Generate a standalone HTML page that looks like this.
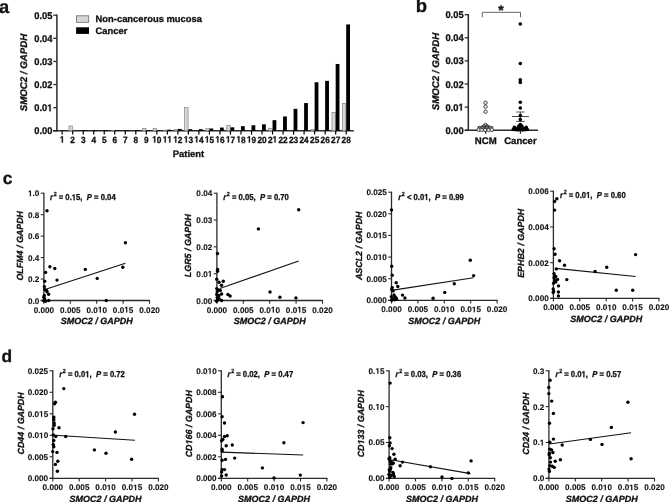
<!DOCTYPE html>
<html><head><meta charset="utf-8"><style>
html,body{margin:0;padding:0;background:#fff;}
body{width:669px;height:502px;overflow:hidden;}
svg{display:block;font-family:"Liberation Sans", sans-serif;text-rendering:geometricPrecision;will-change:transform;}
text{white-space:pre;font-kerning:none;}
</style></head><body>
<svg width="669" height="502" viewBox="0 0 669 502">
<rect width="669" height="502" fill="#fff"/>
<g transform="translate(-1.10 12.80)" fill="#111" stroke="#111" stroke-width="0.3"><text font-weight="bold" xml:space="preserve"><tspan x="0.000" y="0.000" font-size="18.3" font-style="normal">a</tspan></text></g>
<g transform="translate(415.80 12.20)" fill="#111" stroke="#111" stroke-width="0.3"><text font-weight="bold" xml:space="preserve"><tspan x="0.000" y="0.000" font-size="18.5" font-style="normal">b</tspan></text></g>
<g transform="translate(2.70 184.20)" fill="#111" stroke="#111" stroke-width="0.3"><text font-weight="bold" xml:space="preserve"><tspan x="0.000" y="0.000" font-size="17.4" font-style="normal">c</tspan></text></g>
<g transform="translate(1.50 361.90)" fill="#111" stroke="#111" stroke-width="0.3"><text font-weight="bold" xml:space="preserve"><tspan x="0.000" y="0.000" font-size="17.4" font-style="normal">d</tspan></text></g>
<line x1="56.90" y1="14.60" x2="56.90" y2="131.40" stroke="#2a2a2a" stroke-width="1.5"/>
<line x1="53.30" y1="130.80" x2="56.90" y2="130.80" stroke="#2a2a2a" stroke-width="1.3"/>
<g transform="translate(52.40 134.30) scale(0.9550 1)" fill="#111" stroke="#111" stroke-width="0.3"><text font-weight="bold" xml:space="preserve"><tspan x="-19.074" y="0.000" font-size="9.8" font-style="normal">0.00</tspan></text></g>
<line x1="53.30" y1="107.68" x2="56.90" y2="107.68" stroke="#2a2a2a" stroke-width="1.3"/>
<g transform="translate(52.40 111.18) scale(0.9550 1)" fill="#111" stroke="#111" stroke-width="0.3"><text font-weight="bold" xml:space="preserve"><tspan x="-19.074" y="0.000" font-size="9.8" font-style="normal">0.0</tspan></text><g stroke-linejoin="round"><polygon points="-3.163,0.000 -3.163,-5.599 -4.780,-4.589 -4.780,-5.646 -3.091,-6.742 -1.818,-6.742 -1.818,0.000"/></g></g>
<line x1="53.30" y1="84.56" x2="56.90" y2="84.56" stroke="#2a2a2a" stroke-width="1.3"/>
<g transform="translate(52.40 88.06) scale(0.9550 1)" fill="#111" stroke="#111" stroke-width="0.3"><text font-weight="bold" xml:space="preserve"><tspan x="-19.074" y="0.000" font-size="9.8" font-style="normal">0.02</tspan></text></g>
<line x1="53.30" y1="61.44" x2="56.90" y2="61.44" stroke="#2a2a2a" stroke-width="1.3"/>
<g transform="translate(52.40 64.94) scale(0.9550 1)" fill="#111" stroke="#111" stroke-width="0.3"><text font-weight="bold" xml:space="preserve"><tspan x="-19.074" y="0.000" font-size="9.8" font-style="normal">0.03</tspan></text></g>
<line x1="53.30" y1="38.32" x2="56.90" y2="38.32" stroke="#2a2a2a" stroke-width="1.3"/>
<g transform="translate(52.40 41.82) scale(0.9550 1)" fill="#111" stroke="#111" stroke-width="0.3"><text font-weight="bold" xml:space="preserve"><tspan x="-19.074" y="0.000" font-size="9.8" font-style="normal">0.04</tspan></text></g>
<line x1="53.30" y1="15.20" x2="56.90" y2="15.20" stroke="#2a2a2a" stroke-width="1.3"/>
<g transform="translate(52.40 18.70) scale(0.9550 1)" fill="#111" stroke="#111" stroke-width="0.3"><text font-weight="bold" xml:space="preserve"><tspan x="-19.074" y="0.000" font-size="9.8" font-style="normal">0.05</tspan></text></g>
<line x1="53.10" y1="130.80" x2="353.80" y2="130.80" stroke="#2a2a2a" stroke-width="1.5"/>
<g transform="translate(26.70 72.50) rotate(-90)" fill="#111" stroke="#111" stroke-width="0.3"><text font-weight="bold" xml:space="preserve"><tspan x="-38.805" y="0.000" font-size="9.7" font-style="italic">SMOC2 / GAPDH</tspan></text></g>
<line x1="62.15" y1="130.80" x2="62.15" y2="134.60" stroke="#000" stroke-width="1.2"/>
<g transform="translate(62.15 142.50) scale(0.9200 1)" fill="#111" stroke="#111" stroke-width="0.3"><g stroke-linejoin="round"><polygon points="-0.402,0.000 -0.402,-5.142 -1.887,-4.214 -1.887,-5.186 -0.336,-6.192 0.833,-6.192 0.833,0.000"/></g></g>
<line x1="72.67" y1="130.80" x2="72.67" y2="134.60" stroke="#000" stroke-width="1.2"/>
<g transform="translate(72.67 142.50) scale(0.9200 1)" fill="#111" stroke="#111" stroke-width="0.3"><text font-weight="bold" xml:space="preserve"><tspan x="-2.503" y="0.000" font-size="9.0" font-style="normal">2</tspan></text></g>
<rect x="68.97" y="125.94" width="3.40" height="4.86" fill="#d6d6d6" stroke="#747474" stroke-width="0.6"/>
<line x1="83.19" y1="130.80" x2="83.19" y2="134.60" stroke="#000" stroke-width="1.2"/>
<g transform="translate(83.19 142.50) scale(0.9200 1)" fill="#111" stroke="#111" stroke-width="0.3"><text font-weight="bold" xml:space="preserve"><tspan x="-2.503" y="0.000" font-size="9.0" font-style="normal">3</tspan></text></g>
<rect x="83.19" y="130.11" width="3.80" height="0.69" fill="#000"/>
<line x1="93.71" y1="130.80" x2="93.71" y2="134.60" stroke="#000" stroke-width="1.2"/>
<g transform="translate(93.71 142.50) scale(0.9200 1)" fill="#111" stroke="#111" stroke-width="0.3"><text font-weight="bold" xml:space="preserve"><tspan x="-2.503" y="0.000" font-size="9.0" font-style="normal">4</tspan></text></g>
<rect x="93.71" y="130.11" width="3.80" height="0.69" fill="#000"/>
<line x1="104.23" y1="130.80" x2="104.23" y2="134.60" stroke="#000" stroke-width="1.2"/>
<g transform="translate(104.23 142.50) scale(0.9200 1)" fill="#111" stroke="#111" stroke-width="0.3"><text font-weight="bold" xml:space="preserve"><tspan x="-2.503" y="0.000" font-size="9.0" font-style="normal">5</tspan></text></g>
<rect x="104.23" y="130.11" width="3.80" height="0.69" fill="#000"/>
<line x1="114.75" y1="130.80" x2="114.75" y2="134.60" stroke="#000" stroke-width="1.2"/>
<g transform="translate(114.75 142.50) scale(0.9200 1)" fill="#111" stroke="#111" stroke-width="0.3"><text font-weight="bold" xml:space="preserve"><tspan x="-2.503" y="0.000" font-size="9.0" font-style="normal">6</tspan></text></g>
<rect x="111.05" y="130.34" width="3.40" height="0.46" fill="#d6d6d6" stroke="#747474" stroke-width="0.6"/>
<rect x="114.75" y="130.11" width="3.80" height="0.69" fill="#000"/>
<line x1="125.27" y1="130.80" x2="125.27" y2="134.60" stroke="#000" stroke-width="1.2"/>
<g transform="translate(125.27 142.50) scale(0.9200 1)" fill="#111" stroke="#111" stroke-width="0.3"><text font-weight="bold" xml:space="preserve"><tspan x="-2.503" y="0.000" font-size="9.0" font-style="normal">7</tspan></text></g>
<rect x="125.27" y="130.11" width="3.80" height="0.69" fill="#000"/>
<line x1="135.79" y1="130.80" x2="135.79" y2="134.60" stroke="#000" stroke-width="1.2"/>
<g transform="translate(135.79 142.50) scale(0.9200 1)" fill="#111" stroke="#111" stroke-width="0.3"><text font-weight="bold" xml:space="preserve"><tspan x="-2.503" y="0.000" font-size="9.0" font-style="normal">8</tspan></text></g>
<rect x="135.79" y="130.11" width="3.80" height="0.69" fill="#000"/>
<line x1="146.31" y1="130.80" x2="146.31" y2="134.60" stroke="#000" stroke-width="1.2"/>
<g transform="translate(146.31 142.50) scale(0.9200 1)" fill="#111" stroke="#111" stroke-width="0.3"><text font-weight="bold" xml:space="preserve"><tspan x="-2.503" y="0.000" font-size="9.0" font-style="normal">9</tspan></text></g>
<rect x="142.61" y="128.49" width="3.40" height="2.31" fill="#d6d6d6" stroke="#747474" stroke-width="0.6"/>
<rect x="146.31" y="130.11" width="3.80" height="0.69" fill="#000"/>
<line x1="156.83" y1="130.80" x2="156.83" y2="134.60" stroke="#000" stroke-width="1.2"/>
<g transform="translate(156.83 142.50) scale(0.9200 1)" fill="#111" stroke="#111" stroke-width="0.3"><text font-weight="bold" xml:space="preserve"><tspan x="0.000" y="0.000" font-size="9.0" font-style="normal">0</tspan></text><g stroke-linejoin="round"><polygon points="-2.905,0.000 -2.905,-5.142 -4.390,-4.214 -4.390,-5.186 -2.839,-6.192 -1.670,-6.192 -1.670,0.000"/></g></g>
<rect x="153.13" y="128.26" width="3.40" height="2.54" fill="#d6d6d6" stroke="#747474" stroke-width="0.6"/>
<rect x="156.83" y="130.34" width="3.80" height="0.46" fill="#000"/>
<line x1="167.35" y1="130.80" x2="167.35" y2="134.60" stroke="#000" stroke-width="1.2"/>
<g transform="translate(167.35 142.50) scale(0.9200 1)" fill="#111" stroke="#111" stroke-width="0.3"><g stroke-linejoin="round"><polygon points="-2.905,0.000 -2.905,-5.142 -4.390,-4.214 -4.390,-5.186 -2.839,-6.192 -1.670,-6.192 -1.670,0.000"/><polygon points="2.101,0.000 2.101,-5.142 0.615,-4.214 0.615,-5.186 2.167,-6.192 3.335,-6.192 3.335,0.000"/></g></g>
<rect x="163.65" y="130.11" width="3.40" height="0.69" fill="#d6d6d6" stroke="#747474" stroke-width="0.6"/>
<rect x="167.35" y="129.64" width="3.80" height="1.16" fill="#000"/>
<line x1="177.87" y1="130.80" x2="177.87" y2="134.60" stroke="#000" stroke-width="1.2"/>
<g transform="translate(177.87 142.50) scale(0.9200 1)" fill="#111" stroke="#111" stroke-width="0.3"><text font-weight="bold" xml:space="preserve"><tspan x="0.000" y="0.000" font-size="9.0" font-style="normal">2</tspan></text><g stroke-linejoin="round"><polygon points="-2.905,0.000 -2.905,-5.142 -4.390,-4.214 -4.390,-5.186 -2.839,-6.192 -1.670,-6.192 -1.670,0.000"/></g></g>
<rect x="174.17" y="129.64" width="3.40" height="1.16" fill="#d6d6d6" stroke="#747474" stroke-width="0.6"/>
<rect x="177.87" y="128.95" width="3.80" height="1.85" fill="#000"/>
<line x1="188.39" y1="130.80" x2="188.39" y2="134.60" stroke="#000" stroke-width="1.2"/>
<g transform="translate(188.39 142.50) scale(0.9200 1)" fill="#111" stroke="#111" stroke-width="0.3"><text font-weight="bold" xml:space="preserve"><tspan x="0.000" y="0.000" font-size="9.0" font-style="normal">3</tspan></text><g stroke-linejoin="round"><polygon points="-2.905,0.000 -2.905,-5.142 -4.390,-4.214 -4.390,-5.186 -2.839,-6.192 -1.670,-6.192 -1.670,0.000"/></g></g>
<rect x="184.69" y="107.68" width="3.40" height="23.12" fill="#d6d6d6" stroke="#747474" stroke-width="0.6"/>
<rect x="188.39" y="129.18" width="3.80" height="1.62" fill="#000"/>
<line x1="198.91" y1="130.80" x2="198.91" y2="134.60" stroke="#000" stroke-width="1.2"/>
<g transform="translate(198.91 142.50) scale(0.9200 1)" fill="#111" stroke="#111" stroke-width="0.3"><text font-weight="bold" xml:space="preserve"><tspan x="0.000" y="0.000" font-size="9.0" font-style="normal">4</tspan></text><g stroke-linejoin="round"><polygon points="-2.905,0.000 -2.905,-5.142 -4.390,-4.214 -4.390,-5.186 -2.839,-6.192 -1.670,-6.192 -1.670,0.000"/></g></g>
<rect x="198.91" y="129.18" width="3.80" height="1.62" fill="#000"/>
<line x1="209.43" y1="130.80" x2="209.43" y2="134.60" stroke="#000" stroke-width="1.2"/>
<g transform="translate(209.43 142.50) scale(0.9200 1)" fill="#111" stroke="#111" stroke-width="0.3"><text font-weight="bold" xml:space="preserve"><tspan x="0.000" y="0.000" font-size="9.0" font-style="normal">5</tspan></text><g stroke-linejoin="round"><polygon points="-2.905,0.000 -2.905,-5.142 -4.390,-4.214 -4.390,-5.186 -2.839,-6.192 -1.670,-6.192 -1.670,0.000"/></g></g>
<rect x="205.73" y="128.72" width="3.40" height="2.08" fill="#d6d6d6" stroke="#747474" stroke-width="0.6"/>
<rect x="209.43" y="128.49" width="3.80" height="2.31" fill="#000"/>
<line x1="219.95" y1="130.80" x2="219.95" y2="134.60" stroke="#000" stroke-width="1.2"/>
<g transform="translate(219.95 142.50) scale(0.9200 1)" fill="#111" stroke="#111" stroke-width="0.3"><text font-weight="bold" xml:space="preserve"><tspan x="0.000" y="0.000" font-size="9.0" font-style="normal">6</tspan></text><g stroke-linejoin="round"><polygon points="-2.905,0.000 -2.905,-5.142 -4.390,-4.214 -4.390,-5.186 -2.839,-6.192 -1.670,-6.192 -1.670,0.000"/></g></g>
<rect x="219.95" y="127.56" width="3.80" height="3.24" fill="#000"/>
<line x1="230.47" y1="130.80" x2="230.47" y2="134.60" stroke="#000" stroke-width="1.2"/>
<g transform="translate(230.47 142.50) scale(0.9200 1)" fill="#111" stroke="#111" stroke-width="0.3"><text font-weight="bold" xml:space="preserve"><tspan x="0.000" y="0.000" font-size="9.0" font-style="normal">7</tspan></text><g stroke-linejoin="round"><polygon points="-2.905,0.000 -2.905,-5.142 -4.390,-4.214 -4.390,-5.186 -2.839,-6.192 -1.670,-6.192 -1.670,0.000"/></g></g>
<rect x="226.77" y="125.25" width="3.40" height="5.55" fill="#d6d6d6" stroke="#747474" stroke-width="0.6"/>
<rect x="230.47" y="127.33" width="3.80" height="3.47" fill="#000"/>
<line x1="240.99" y1="130.80" x2="240.99" y2="134.60" stroke="#000" stroke-width="1.2"/>
<g transform="translate(240.99 142.50) scale(0.9200 1)" fill="#111" stroke="#111" stroke-width="0.3"><text font-weight="bold" xml:space="preserve"><tspan x="0.000" y="0.000" font-size="9.0" font-style="normal">8</tspan></text><g stroke-linejoin="round"><polygon points="-2.905,0.000 -2.905,-5.142 -4.390,-4.214 -4.390,-5.186 -2.839,-6.192 -1.670,-6.192 -1.670,0.000"/></g></g>
<rect x="240.99" y="126.18" width="3.80" height="4.62" fill="#000"/>
<line x1="251.51" y1="130.80" x2="251.51" y2="134.60" stroke="#000" stroke-width="1.2"/>
<g transform="translate(251.51 142.50) scale(0.9200 1)" fill="#111" stroke="#111" stroke-width="0.3"><text font-weight="bold" xml:space="preserve"><tspan x="0.000" y="0.000" font-size="9.0" font-style="normal">9</tspan></text><g stroke-linejoin="round"><polygon points="-2.905,0.000 -2.905,-5.142 -4.390,-4.214 -4.390,-5.186 -2.839,-6.192 -1.670,-6.192 -1.670,0.000"/></g></g>
<rect x="251.51" y="125.25" width="3.80" height="5.55" fill="#000"/>
<line x1="262.03" y1="130.80" x2="262.03" y2="134.60" stroke="#000" stroke-width="1.2"/>
<g transform="translate(262.03 142.50) scale(0.9200 1)" fill="#111" stroke="#111" stroke-width="0.3"><text font-weight="bold" xml:space="preserve"><tspan x="-5.005" y="0.000" font-size="9.0" font-style="normal">20</tspan></text></g>
<rect x="262.03" y="124.33" width="3.80" height="6.47" fill="#000"/>
<line x1="272.55" y1="130.80" x2="272.55" y2="134.60" stroke="#000" stroke-width="1.2"/>
<g transform="translate(272.55 142.50) scale(0.9200 1)" fill="#111" stroke="#111" stroke-width="0.3"><text font-weight="bold" xml:space="preserve"><tspan x="-5.005" y="0.000" font-size="9.0" font-style="normal">2</tspan></text><g stroke-linejoin="round"><polygon points="2.101,0.000 2.101,-5.142 0.615,-4.214 0.615,-5.186 2.167,-6.192 3.335,-6.192 3.335,0.000"/></g></g>
<rect x="268.85" y="128.49" width="3.40" height="2.31" fill="#d6d6d6" stroke="#747474" stroke-width="0.6"/>
<rect x="272.55" y="120.16" width="3.80" height="10.64" fill="#000"/>
<line x1="283.07" y1="130.80" x2="283.07" y2="134.60" stroke="#000" stroke-width="1.2"/>
<g transform="translate(283.07 142.50) scale(0.9200 1)" fill="#111" stroke="#111" stroke-width="0.3"><text font-weight="bold" xml:space="preserve"><tspan x="-5.005" y="0.000" font-size="9.0" font-style="normal">22</tspan></text></g>
<rect x="283.07" y="116.47" width="3.80" height="14.33" fill="#000"/>
<line x1="293.59" y1="130.80" x2="293.59" y2="134.60" stroke="#000" stroke-width="1.2"/>
<g transform="translate(293.59 142.50) scale(0.9200 1)" fill="#111" stroke="#111" stroke-width="0.3"><text font-weight="bold" xml:space="preserve"><tspan x="-5.005" y="0.000" font-size="9.0" font-style="normal">23</tspan></text></g>
<rect x="293.59" y="108.84" width="3.80" height="21.96" fill="#000"/>
<line x1="304.11" y1="130.80" x2="304.11" y2="134.60" stroke="#000" stroke-width="1.2"/>
<g transform="translate(304.11 142.50) scale(0.9200 1)" fill="#111" stroke="#111" stroke-width="0.3"><text font-weight="bold" xml:space="preserve"><tspan x="-5.005" y="0.000" font-size="9.0" font-style="normal">24</tspan></text></g>
<rect x="304.11" y="103.06" width="3.80" height="27.74" fill="#000"/>
<line x1="314.63" y1="130.80" x2="314.63" y2="134.60" stroke="#000" stroke-width="1.2"/>
<g transform="translate(314.63 142.50) scale(0.9200 1)" fill="#111" stroke="#111" stroke-width="0.3"><text font-weight="bold" xml:space="preserve"><tspan x="-5.005" y="0.000" font-size="9.0" font-style="normal">25</tspan></text></g>
<rect x="310.93" y="129.64" width="3.40" height="1.16" fill="#d6d6d6" stroke="#747474" stroke-width="0.6"/>
<rect x="314.63" y="82.25" width="3.80" height="48.55" fill="#000"/>
<line x1="325.15" y1="130.80" x2="325.15" y2="134.60" stroke="#000" stroke-width="1.2"/>
<g transform="translate(325.15 142.50) scale(0.9200 1)" fill="#111" stroke="#111" stroke-width="0.3"><text font-weight="bold" xml:space="preserve"><tspan x="-5.005" y="0.000" font-size="9.0" font-style="normal">26</tspan></text></g>
<rect x="325.15" y="80.86" width="3.80" height="49.94" fill="#000"/>
<line x1="335.67" y1="130.80" x2="335.67" y2="134.60" stroke="#000" stroke-width="1.2"/>
<g transform="translate(335.67 142.50) scale(0.9200 1)" fill="#111" stroke="#111" stroke-width="0.3"><text font-weight="bold" xml:space="preserve"><tspan x="-5.005" y="0.000" font-size="9.0" font-style="normal">27</tspan></text></g>
<rect x="331.97" y="112.30" width="3.40" height="18.50" fill="#d6d6d6" stroke="#747474" stroke-width="0.6"/>
<rect x="335.67" y="63.98" width="3.80" height="66.82" fill="#000"/>
<line x1="346.19" y1="130.80" x2="346.19" y2="134.60" stroke="#000" stroke-width="1.2"/>
<g transform="translate(346.19 142.50) scale(0.9200 1)" fill="#111" stroke="#111" stroke-width="0.3"><text font-weight="bold" xml:space="preserve"><tspan x="-5.005" y="0.000" font-size="9.0" font-style="normal">28</tspan></text></g>
<rect x="342.49" y="103.29" width="3.40" height="27.51" fill="#d6d6d6" stroke="#747474" stroke-width="0.6"/>
<rect x="346.19" y="24.45" width="3.80" height="106.35" fill="#000"/>
<g transform="translate(188.50 157.00)" fill="#111" stroke="#111" stroke-width="0.3"><text font-weight="bold" xml:space="preserve"><tspan x="-15.670" y="0.000" font-size="9.4" font-style="normal">Patient</tspan></text></g>
<rect x="76.50" y="15.80" width="12.20" height="6.50" fill="#d6d6d6" stroke="#6a6a6a" stroke-width="0.8"/>
<rect x="76.10" y="27.30" width="12.90" height="6.60" fill="#000"/>
<g transform="translate(95.60 22.00)" fill="#111" stroke="#111" stroke-width="0.3"><text font-weight="bold" xml:space="preserve"><tspan x="0.000" y="0.000" font-size="9.4" font-style="normal">Non-cancerous mucosa</tspan></text></g>
<g transform="translate(95.60 33.70)" fill="#111" stroke="#111" stroke-width="0.3"><text font-weight="bold" xml:space="preserve"><tspan x="0.000" y="0.000" font-size="9.4" font-style="normal">Cancer</tspan></text></g>
<line x1="468.30" y1="14.10" x2="468.30" y2="130.80" stroke="#2a2a2a" stroke-width="1.5"/>
<line x1="464.70" y1="130.20" x2="468.30" y2="130.20" stroke="#2a2a2a" stroke-width="1.3"/>
<g transform="translate(463.60 133.70) scale(0.9550 1)" fill="#111" stroke="#111" stroke-width="0.3"><text font-weight="bold" xml:space="preserve"><tspan x="-19.074" y="0.000" font-size="9.8" font-style="normal">0.00</tspan></text></g>
<line x1="464.70" y1="107.10" x2="468.30" y2="107.10" stroke="#2a2a2a" stroke-width="1.3"/>
<g transform="translate(463.60 110.60) scale(0.9550 1)" fill="#111" stroke="#111" stroke-width="0.3"><text font-weight="bold" xml:space="preserve"><tspan x="-19.074" y="0.000" font-size="9.8" font-style="normal">0.0</tspan></text><g stroke-linejoin="round"><polygon points="-3.163,0.000 -3.163,-5.599 -4.780,-4.589 -4.780,-5.646 -3.091,-6.742 -1.818,-6.742 -1.818,0.000"/></g></g>
<line x1="464.70" y1="84.00" x2="468.30" y2="84.00" stroke="#2a2a2a" stroke-width="1.3"/>
<g transform="translate(463.60 87.50) scale(0.9550 1)" fill="#111" stroke="#111" stroke-width="0.3"><text font-weight="bold" xml:space="preserve"><tspan x="-19.074" y="0.000" font-size="9.8" font-style="normal">0.02</tspan></text></g>
<line x1="464.70" y1="60.90" x2="468.30" y2="60.90" stroke="#2a2a2a" stroke-width="1.3"/>
<g transform="translate(463.60 64.40) scale(0.9550 1)" fill="#111" stroke="#111" stroke-width="0.3"><text font-weight="bold" xml:space="preserve"><tspan x="-19.074" y="0.000" font-size="9.8" font-style="normal">0.03</tspan></text></g>
<line x1="464.70" y1="37.80" x2="468.30" y2="37.80" stroke="#2a2a2a" stroke-width="1.3"/>
<g transform="translate(463.60 41.30) scale(0.9550 1)" fill="#111" stroke="#111" stroke-width="0.3"><text font-weight="bold" xml:space="preserve"><tspan x="-19.074" y="0.000" font-size="9.8" font-style="normal">0.04</tspan></text></g>
<line x1="464.70" y1="14.70" x2="468.30" y2="14.70" stroke="#2a2a2a" stroke-width="1.3"/>
<g transform="translate(463.60 18.20) scale(0.9550 1)" fill="#111" stroke="#111" stroke-width="0.3"><text font-weight="bold" xml:space="preserve"><tspan x="-19.074" y="0.000" font-size="9.8" font-style="normal">0.05</tspan></text></g>
<line x1="464.70" y1="130.20" x2="538.00" y2="130.20" stroke="#2a2a2a" stroke-width="1.5"/>
<g transform="translate(439.00 71.50) rotate(-90)" fill="#111" stroke="#111" stroke-width="0.3"><text font-weight="bold" xml:space="preserve"><tspan x="-38.805" y="0.000" font-size="9.7" font-style="italic">SMOC2 / GAPDH</tspan></text></g>
<line x1="485.70" y1="130.20" x2="485.70" y2="133.80" stroke="#2a2a2a" stroke-width="1.3"/>
<line x1="520.40" y1="130.20" x2="520.40" y2="133.80" stroke="#2a2a2a" stroke-width="1.3"/>
<g transform="translate(485.70 143.80)" fill="#111" stroke="#111" stroke-width="0.3"><text font-weight="bold" xml:space="preserve"><tspan x="-10.931" y="0.000" font-size="9.6" font-style="normal">NCM</tspan></text></g>
<g transform="translate(520.40 143.80)" fill="#111" stroke="#111" stroke-width="0.3"><text font-weight="bold" xml:space="preserve"><tspan x="-16.275" y="0.000" font-size="9.6" font-style="normal">Cancer</tspan></text></g>
<polyline points="482.3,17.2 482.3,12.3 520.5,12.3 520.5,17.2" fill="none" stroke="#555" stroke-width="0.9"/>
<g transform="translate(501.00 14.90)" fill="#111" stroke="#111" stroke-width="0.3"><text font-weight="bold" xml:space="preserve"><tspan x="-2.724" y="0.000" font-size="14" font-style="normal">*</tspan></text></g>
<circle cx="485.50" cy="102.71" r="1.75" fill="#e4e4e4" stroke="#333" stroke-width="0.85"/>
<circle cx="485.50" cy="106.64" r="1.75" fill="#e4e4e4" stroke="#333" stroke-width="0.85"/>
<circle cx="485.50" cy="111.72" r="1.75" fill="#e4e4e4" stroke="#333" stroke-width="0.85"/>
<circle cx="485.50" cy="125.00" r="1.75" fill="#e4e4e4" stroke="#333" stroke-width="0.85"/>
<circle cx="484.00" cy="126.40" r="1.75" fill="#e4e4e4" stroke="#333" stroke-width="0.85"/>
<circle cx="487.00" cy="126.40" r="1.75" fill="#e4e4e4" stroke="#333" stroke-width="0.85"/>
<circle cx="479.80" cy="128.00" r="1.75" fill="#e4e4e4" stroke="#333" stroke-width="0.85"/>
<circle cx="482.90" cy="127.80" r="1.75" fill="#e4e4e4" stroke="#333" stroke-width="0.85"/>
<circle cx="486.90" cy="127.80" r="1.75" fill="#e4e4e4" stroke="#333" stroke-width="0.85"/>
<circle cx="490.40" cy="128.00" r="1.75" fill="#e4e4e4" stroke="#333" stroke-width="0.85"/>
<circle cx="478.70" cy="129.80" r="1.75" fill="#e4e4e4" stroke="#333" stroke-width="0.85"/>
<circle cx="481.60" cy="129.90" r="1.75" fill="#e4e4e4" stroke="#333" stroke-width="0.85"/>
<circle cx="485.10" cy="129.90" r="1.75" fill="#e4e4e4" stroke="#333" stroke-width="0.85"/>
<circle cx="488.60" cy="129.90" r="1.75" fill="#e4e4e4" stroke="#333" stroke-width="0.85"/>
<circle cx="491.90" cy="129.80" r="1.75" fill="#e4e4e4" stroke="#333" stroke-width="0.85"/>
<line x1="477.50" y1="127.00" x2="493.50" y2="127.00" stroke="#222" stroke-width="0.9"/>
<line x1="481.50" y1="125.80" x2="489.50" y2="125.80" stroke="#333" stroke-width="0.8"/>
<line x1="481.50" y1="128.20" x2="489.50" y2="128.20" stroke="#333" stroke-width="0.8"/>
<line x1="512.00" y1="116.50" x2="528.90" y2="116.50" stroke="#333" stroke-width="0.9"/>
<line x1="516.20" y1="112.00" x2="524.60" y2="112.00" stroke="#444" stroke-width="0.9"/>
<line x1="516.20" y1="121.40" x2="524.60" y2="121.40" stroke="#333" stroke-width="0.9"/>
<line x1="520.30" y1="112.00" x2="520.30" y2="121.40" stroke="#333" stroke-width="0.9"/>
<circle cx="520.30" cy="23.94" r="1.8" fill="#000"/>
<circle cx="520.30" cy="63.44" r="1.8" fill="#000"/>
<circle cx="520.30" cy="79.84" r="1.8" fill="#000"/>
<circle cx="520.30" cy="82.38" r="1.8" fill="#000"/>
<circle cx="520.30" cy="102.25" r="1.8" fill="#000"/>
<circle cx="520.30" cy="108.02" r="1.8" fill="#000"/>
<circle cx="520.30" cy="115.65" r="1.8" fill="#000"/>
<circle cx="520.30" cy="119.57" r="1.8" fill="#000"/>
<circle cx="520.30" cy="124.60" r="1.8" fill="#000"/>
<circle cx="518.80" cy="126.00" r="1.8" fill="#000"/>
<circle cx="521.80" cy="126.00" r="1.8" fill="#000"/>
<circle cx="520.30" cy="126.80" r="1.8" fill="#000"/>
<circle cx="514.30" cy="127.40" r="1.8" fill="#000"/>
<circle cx="526.30" cy="127.40" r="1.8" fill="#000"/>
<circle cx="517.00" cy="128.40" r="1.8" fill="#000"/>
<circle cx="523.60" cy="128.40" r="1.8" fill="#000"/>
<circle cx="520.30" cy="128.80" r="1.8" fill="#000"/>
<circle cx="513.30" cy="129.50" r="1.8" fill="#000"/>
<circle cx="515.80" cy="129.80" r="1.8" fill="#000"/>
<circle cx="518.20" cy="129.90" r="1.8" fill="#000"/>
<circle cx="522.40" cy="129.90" r="1.8" fill="#000"/>
<circle cx="524.80" cy="129.80" r="1.8" fill="#000"/>
<circle cx="527.30" cy="129.50" r="1.8" fill="#000"/>
<line x1="43.90" y1="192.70" x2="43.90" y2="301.10" stroke="#2a2a2a" stroke-width="1.3"/>
<line x1="40.70" y1="300.50" x2="43.90" y2="300.50" stroke="#2a2a2a" stroke-width="1.1"/>
<g transform="translate(39.30 303.50)" fill="#111" stroke="#111" stroke-width="0.1"><text font-weight="bold" xml:space="preserve"><tspan x="-11.399" y="0.000" font-size="8.2" font-style="normal">0.0</tspan></text></g>
<line x1="40.70" y1="279.04" x2="43.90" y2="279.04" stroke="#2a2a2a" stroke-width="1.1"/>
<g transform="translate(39.30 282.04)" fill="#111" stroke="#111" stroke-width="0.1"><text font-weight="bold" xml:space="preserve"><tspan x="-11.399" y="0.000" font-size="8.2" font-style="normal">0.2</tspan></text></g>
<line x1="40.70" y1="257.58" x2="43.90" y2="257.58" stroke="#2a2a2a" stroke-width="1.1"/>
<g transform="translate(39.30 260.58)" fill="#111" stroke="#111" stroke-width="0.1"><text font-weight="bold" xml:space="preserve"><tspan x="-11.399" y="0.000" font-size="8.2" font-style="normal">0.4</tspan></text></g>
<line x1="40.70" y1="236.12" x2="43.90" y2="236.12" stroke="#2a2a2a" stroke-width="1.1"/>
<g transform="translate(39.30 239.12)" fill="#111" stroke="#111" stroke-width="0.1"><text font-weight="bold" xml:space="preserve"><tspan x="-11.399" y="0.000" font-size="8.2" font-style="normal">0.6</tspan></text></g>
<line x1="40.70" y1="214.66" x2="43.90" y2="214.66" stroke="#2a2a2a" stroke-width="1.1"/>
<g transform="translate(39.30 217.66)" fill="#111" stroke="#111" stroke-width="0.1"><text font-weight="bold" xml:space="preserve"><tspan x="-11.399" y="0.000" font-size="8.2" font-style="normal">0.8</tspan></text></g>
<line x1="40.70" y1="193.20" x2="43.90" y2="193.20" stroke="#2a2a2a" stroke-width="1.1"/>
<g transform="translate(39.30 196.20)" fill="#111" stroke="#111" stroke-width="0.1"><text font-weight="bold" xml:space="preserve"><tspan x="-6.839" y="0.000" font-size="8.2" font-style="normal">.0</tspan></text><g stroke-linejoin="round"><polygon points="-9.485,0.000 -9.485,-4.685 -10.839,-3.840 -10.839,-4.725 -9.425,-5.642 -8.360,-5.642 -8.360,0.000"/></g></g>
<line x1="40.70" y1="300.50" x2="150.00" y2="300.50" stroke="#2a2a2a" stroke-width="1.3"/>
<line x1="43.90" y1="300.50" x2="43.90" y2="303.70" stroke="#2a2a2a" stroke-width="1.1"/>
<g transform="translate(43.90 312.50)" fill="#111" stroke="#111" stroke-width="0.1"><text font-weight="bold" xml:space="preserve"><tspan x="-10.260" y="0.000" font-size="8.2" font-style="normal">0.000</tspan></text></g>
<line x1="70.30" y1="300.50" x2="70.30" y2="303.70" stroke="#2a2a2a" stroke-width="1.1"/>
<g transform="translate(70.30 312.50)" fill="#111" stroke="#111" stroke-width="0.1"><text font-weight="bold" xml:space="preserve"><tspan x="-10.260" y="0.000" font-size="8.2" font-style="normal">0.005</tspan></text></g>
<line x1="96.70" y1="300.50" x2="96.70" y2="303.70" stroke="#2a2a2a" stroke-width="1.1"/>
<g transform="translate(96.70 312.50)" fill="#111" stroke="#111" stroke-width="0.1"><text font-weight="bold" xml:space="preserve"><tspan x="-10.260" y="0.000" font-size="8.2" font-style="normal">0.0</tspan><tspan x="5.700" y="0.000" font-size="8.2" font-style="normal">0</tspan></text><g stroke-linejoin="round"><polygon points="3.053,0.000 3.053,-4.685 1.700,-3.840 1.700,-4.725 3.113,-5.642 4.178,-5.642 4.178,0.000"/></g></g>
<line x1="123.10" y1="300.50" x2="123.10" y2="303.70" stroke="#2a2a2a" stroke-width="1.1"/>
<g transform="translate(123.10 312.50)" fill="#111" stroke="#111" stroke-width="0.1"><text font-weight="bold" xml:space="preserve"><tspan x="-10.260" y="0.000" font-size="8.2" font-style="normal">0.0</tspan><tspan x="5.700" y="0.000" font-size="8.2" font-style="normal">5</tspan></text><g stroke-linejoin="round"><polygon points="3.053,0.000 3.053,-4.685 1.700,-3.840 1.700,-4.725 3.113,-5.642 4.178,-5.642 4.178,0.000"/></g></g>
<line x1="149.50" y1="300.50" x2="149.50" y2="303.70" stroke="#2a2a2a" stroke-width="1.1"/>
<g transform="translate(149.50 312.50)" fill="#111" stroke="#111" stroke-width="0.1"><text font-weight="bold" xml:space="preserve"><tspan x="-10.260" y="0.000" font-size="8.2" font-style="normal">0.020</tspan></text></g>
<g transform="translate(96.70 323.70)" fill="#111" stroke="#111" stroke-width="0.3"><text font-weight="bold" xml:space="preserve"><tspan x="-36.004" y="0.000" font-size="9.0" font-style="italic">SMOC2 / GAPDH</tspan></text></g>
<g transform="translate(23.10 245.70) rotate(-90)" fill="#111" stroke="#111" stroke-width="0.3"><text font-weight="bold" xml:space="preserve"><tspan x="-34.859" y="0.000" font-size="8.9" font-style="italic">OLFM4 / GAPDH</tspan></text></g>
<g transform="translate(50.10 200.30) scale(0.8960 1)" fill="#111" stroke="#111" stroke-width="0.3"><text font-weight="bold" xml:space="preserve"><tspan x="0.000" y="0.000" font-size="8.6" font-style="italic">r</tspan><tspan x="3.947" y="-3.900" font-size="5.9" font-style="normal">2</tspan><tspan x="7.228" y="0.000" font-size="8.6" font-style="normal"> = 0.</tspan><tspan x="28.984" y="0.000" font-size="8.6" font-style="normal">5,  </tspan><tspan x="40.935" y="0.000" font-size="8.6" font-style="italic">P</tspan><tspan x="46.671" y="0.000" font-size="8.6" font-style="normal"> = 0.04</tspan></text><g stroke-linejoin="round"><polygon points="26.209,0.000 26.209,-4.913 24.789,-4.027 24.789,-4.955 26.272,-5.917 27.389,-5.917 27.389,0.000"/></g></g>
<line x1="46.50" y1="289.10" x2="125.40" y2="263.30" stroke="#111" stroke-width="1.1"/>
<circle cx="47.00" cy="210.80" r="1.7" fill="#000"/>
<circle cx="125.40" cy="242.70" r="1.7" fill="#000"/>
<circle cx="49.90" cy="266.70" r="1.7" fill="#000"/>
<circle cx="54.80" cy="268.50" r="1.7" fill="#000"/>
<circle cx="85.30" cy="269.40" r="1.7" fill="#000"/>
<circle cx="122.80" cy="267.30" r="1.7" fill="#000"/>
<circle cx="45.60" cy="272.40" r="1.7" fill="#000"/>
<circle cx="57.00" cy="280.10" r="1.7" fill="#000"/>
<circle cx="97.20" cy="278.40" r="1.7" fill="#000"/>
<circle cx="44.70" cy="281.30" r="1.7" fill="#000"/>
<circle cx="44.40" cy="286.60" r="1.7" fill="#000"/>
<circle cx="44.70" cy="289.50" r="1.7" fill="#000"/>
<circle cx="46.50" cy="290.40" r="1.7" fill="#000"/>
<circle cx="47.00" cy="291.80" r="1.7" fill="#000"/>
<circle cx="48.60" cy="294.20" r="1.7" fill="#000"/>
<circle cx="44.30" cy="295.40" r="1.7" fill="#000"/>
<circle cx="43.80" cy="297.20" r="1.7" fill="#000"/>
<circle cx="44.70" cy="298.90" r="1.7" fill="#000"/>
<circle cx="43.80" cy="300.70" r="1.7" fill="#000"/>
<circle cx="48.70" cy="300.50" r="1.7" fill="#000"/>
<circle cx="45.60" cy="301.20" r="1.7" fill="#000"/>
<circle cx="106.30" cy="300.50" r="1.7" fill="#000"/>
<line x1="216.90" y1="192.70" x2="216.90" y2="301.10" stroke="#2a2a2a" stroke-width="1.3"/>
<line x1="213.70" y1="300.50" x2="216.90" y2="300.50" stroke="#2a2a2a" stroke-width="1.1"/>
<g transform="translate(212.30 303.50)" fill="#111" stroke="#111" stroke-width="0.1"><text font-weight="bold" xml:space="preserve"><tspan x="-15.960" y="0.000" font-size="8.2" font-style="normal">0.00</tspan></text></g>
<line x1="213.70" y1="273.68" x2="216.90" y2="273.68" stroke="#2a2a2a" stroke-width="1.1"/>
<g transform="translate(212.30 276.68)" fill="#111" stroke="#111" stroke-width="0.1"><text font-weight="bold" xml:space="preserve"><tspan x="-15.960" y="0.000" font-size="8.2" font-style="normal">0.0</tspan></text><g stroke-linejoin="round"><polygon points="-2.647,0.000 -2.647,-4.685 -4.000,-3.840 -4.000,-4.725 -2.587,-5.642 -1.521,-5.642 -1.521,0.000"/></g></g>
<line x1="213.70" y1="246.85" x2="216.90" y2="246.85" stroke="#2a2a2a" stroke-width="1.1"/>
<g transform="translate(212.30 249.85)" fill="#111" stroke="#111" stroke-width="0.1"><text font-weight="bold" xml:space="preserve"><tspan x="-15.960" y="0.000" font-size="8.2" font-style="normal">0.02</tspan></text></g>
<line x1="213.70" y1="220.02" x2="216.90" y2="220.02" stroke="#2a2a2a" stroke-width="1.1"/>
<g transform="translate(212.30 223.02)" fill="#111" stroke="#111" stroke-width="0.1"><text font-weight="bold" xml:space="preserve"><tspan x="-15.960" y="0.000" font-size="8.2" font-style="normal">0.03</tspan></text></g>
<line x1="213.70" y1="193.20" x2="216.90" y2="193.20" stroke="#2a2a2a" stroke-width="1.1"/>
<g transform="translate(212.30 196.20)" fill="#111" stroke="#111" stroke-width="0.1"><text font-weight="bold" xml:space="preserve"><tspan x="-15.960" y="0.000" font-size="8.2" font-style="normal">0.04</tspan></text></g>
<line x1="213.70" y1="300.50" x2="323.00" y2="300.50" stroke="#2a2a2a" stroke-width="1.3"/>
<line x1="216.90" y1="300.50" x2="216.90" y2="303.70" stroke="#2a2a2a" stroke-width="1.1"/>
<g transform="translate(216.90 312.50)" fill="#111" stroke="#111" stroke-width="0.1"><text font-weight="bold" xml:space="preserve"><tspan x="-10.260" y="0.000" font-size="8.2" font-style="normal">0.000</tspan></text></g>
<line x1="243.30" y1="300.50" x2="243.30" y2="303.70" stroke="#2a2a2a" stroke-width="1.1"/>
<g transform="translate(243.30 312.50)" fill="#111" stroke="#111" stroke-width="0.1"><text font-weight="bold" xml:space="preserve"><tspan x="-10.260" y="0.000" font-size="8.2" font-style="normal">0.005</tspan></text></g>
<line x1="269.70" y1="300.50" x2="269.70" y2="303.70" stroke="#2a2a2a" stroke-width="1.1"/>
<g transform="translate(269.70 312.50)" fill="#111" stroke="#111" stroke-width="0.1"><text font-weight="bold" xml:space="preserve"><tspan x="-10.260" y="0.000" font-size="8.2" font-style="normal">0.0</tspan><tspan x="5.700" y="0.000" font-size="8.2" font-style="normal">0</tspan></text><g stroke-linejoin="round"><polygon points="3.053,0.000 3.053,-4.685 1.700,-3.840 1.700,-4.725 3.113,-5.642 4.178,-5.642 4.178,0.000"/></g></g>
<line x1="296.10" y1="300.50" x2="296.10" y2="303.70" stroke="#2a2a2a" stroke-width="1.1"/>
<g transform="translate(296.10 312.50)" fill="#111" stroke="#111" stroke-width="0.1"><text font-weight="bold" xml:space="preserve"><tspan x="-10.260" y="0.000" font-size="8.2" font-style="normal">0.0</tspan><tspan x="5.700" y="0.000" font-size="8.2" font-style="normal">5</tspan></text><g stroke-linejoin="round"><polygon points="3.053,0.000 3.053,-4.685 1.700,-3.840 1.700,-4.725 3.113,-5.642 4.178,-5.642 4.178,0.000"/></g></g>
<line x1="322.50" y1="300.50" x2="322.50" y2="303.70" stroke="#2a2a2a" stroke-width="1.1"/>
<g transform="translate(322.50 312.50)" fill="#111" stroke="#111" stroke-width="0.1"><text font-weight="bold" xml:space="preserve"><tspan x="-10.260" y="0.000" font-size="8.2" font-style="normal">0.020</tspan></text></g>
<g transform="translate(269.70 323.70)" fill="#111" stroke="#111" stroke-width="0.3"><text font-weight="bold" xml:space="preserve"><tspan x="-36.004" y="0.000" font-size="9.0" font-style="italic">SMOC2 / GAPDH</tspan></text></g>
<g transform="translate(191.10 245.50) rotate(-90)" fill="#111" stroke="#111" stroke-width="0.3"><text font-weight="bold" xml:space="preserve"><tspan x="-31.648" y="0.000" font-size="8.9" font-style="italic">LGR5 / GAPDH</tspan></text></g>
<g transform="translate(223.30 200.00) scale(0.8960 1)" fill="#111" stroke="#111" stroke-width="0.3"><text font-weight="bold" xml:space="preserve"><tspan x="0.000" y="0.000" font-size="8.6" font-style="italic">r</tspan><tspan x="3.947" y="-3.900" font-size="5.9" font-style="normal">2</tspan><tspan x="7.228" y="0.000" font-size="8.6" font-style="normal"> = 0.05,  </tspan><tspan x="40.935" y="0.000" font-size="8.6" font-style="italic">P</tspan><tspan x="46.671" y="0.000" font-size="8.6" font-style="normal"> = 0.70</tspan></text></g>
<line x1="219.70" y1="288.50" x2="298.70" y2="261.10" stroke="#111" stroke-width="1.1"/>
<circle cx="298.70" cy="209.70" r="1.7" fill="#000"/>
<circle cx="258.40" cy="228.90" r="1.7" fill="#000"/>
<circle cx="217.50" cy="253.50" r="1.7" fill="#000"/>
<circle cx="270.00" cy="292.00" r="1.7" fill="#000"/>
<circle cx="279.90" cy="297.30" r="1.7" fill="#000"/>
<circle cx="295.90" cy="297.90" r="1.7" fill="#000"/>
<circle cx="217.60" cy="269.40" r="1.7" fill="#000"/>
<circle cx="217.60" cy="271.20" r="1.7" fill="#000"/>
<circle cx="216.70" cy="279.20" r="1.7" fill="#000"/>
<circle cx="223.30" cy="281.30" r="1.7" fill="#000"/>
<circle cx="219.00" cy="282.20" r="1.7" fill="#000"/>
<circle cx="221.50" cy="285.20" r="1.7" fill="#000"/>
<circle cx="216.70" cy="288.60" r="1.7" fill="#000"/>
<circle cx="218.10" cy="290.00" r="1.7" fill="#000"/>
<circle cx="220.30" cy="290.40" r="1.7" fill="#000"/>
<circle cx="217.20" cy="291.80" r="1.7" fill="#000"/>
<circle cx="221.60" cy="294.00" r="1.7" fill="#000"/>
<circle cx="227.90" cy="294.50" r="1.7" fill="#000"/>
<circle cx="230.10" cy="296.00" r="1.7" fill="#000"/>
<circle cx="216.70" cy="294.50" r="1.7" fill="#000"/>
<circle cx="219.00" cy="295.40" r="1.7" fill="#000"/>
<circle cx="217.20" cy="297.60" r="1.7" fill="#000"/>
<circle cx="217.60" cy="299.80" r="1.7" fill="#000"/>
<circle cx="221.60" cy="300.50" r="1.7" fill="#000"/>
<circle cx="216.70" cy="301.20" r="1.7" fill="#000"/>
<circle cx="219.00" cy="298.50" r="1.7" fill="#000"/>
<line x1="391.50" y1="191.70" x2="391.50" y2="300.90" stroke="#2a2a2a" stroke-width="1.3"/>
<line x1="388.30" y1="300.30" x2="391.50" y2="300.30" stroke="#2a2a2a" stroke-width="1.1"/>
<g transform="translate(386.90 303.30)" fill="#111" stroke="#111" stroke-width="0.1"><text font-weight="bold" xml:space="preserve"><tspan x="-20.520" y="0.000" font-size="8.2" font-style="normal">0.000</tspan></text></g>
<line x1="388.30" y1="278.68" x2="391.50" y2="278.68" stroke="#2a2a2a" stroke-width="1.1"/>
<g transform="translate(386.90 281.68)" fill="#111" stroke="#111" stroke-width="0.1"><text font-weight="bold" xml:space="preserve"><tspan x="-20.520" y="0.000" font-size="8.2" font-style="normal">0.005</tspan></text></g>
<line x1="388.30" y1="257.06" x2="391.50" y2="257.06" stroke="#2a2a2a" stroke-width="1.1"/>
<g transform="translate(386.90 260.06)" fill="#111" stroke="#111" stroke-width="0.1"><text font-weight="bold" xml:space="preserve"><tspan x="-20.520" y="0.000" font-size="8.2" font-style="normal">0.0</tspan><tspan x="-4.560" y="0.000" font-size="8.2" font-style="normal">0</tspan></text><g stroke-linejoin="round"><polygon points="-7.207,0.000 -7.207,-4.685 -8.560,-3.840 -8.560,-4.725 -7.147,-5.642 -6.082,-5.642 -6.082,0.000"/></g></g>
<line x1="388.30" y1="235.44" x2="391.50" y2="235.44" stroke="#2a2a2a" stroke-width="1.1"/>
<g transform="translate(386.90 238.44)" fill="#111" stroke="#111" stroke-width="0.1"><text font-weight="bold" xml:space="preserve"><tspan x="-20.520" y="0.000" font-size="8.2" font-style="normal">0.0</tspan><tspan x="-4.560" y="0.000" font-size="8.2" font-style="normal">5</tspan></text><g stroke-linejoin="round"><polygon points="-7.207,0.000 -7.207,-4.685 -8.560,-3.840 -8.560,-4.725 -7.147,-5.642 -6.082,-5.642 -6.082,0.000"/></g></g>
<line x1="388.30" y1="213.82" x2="391.50" y2="213.82" stroke="#2a2a2a" stroke-width="1.1"/>
<g transform="translate(386.90 216.82)" fill="#111" stroke="#111" stroke-width="0.1"><text font-weight="bold" xml:space="preserve"><tspan x="-20.520" y="0.000" font-size="8.2" font-style="normal">0.020</tspan></text></g>
<line x1="388.30" y1="192.20" x2="391.50" y2="192.20" stroke="#2a2a2a" stroke-width="1.1"/>
<g transform="translate(386.90 195.20)" fill="#111" stroke="#111" stroke-width="0.1"><text font-weight="bold" xml:space="preserve"><tspan x="-20.520" y="0.000" font-size="8.2" font-style="normal">0.025</tspan></text></g>
<line x1="388.30" y1="300.30" x2="497.60" y2="300.30" stroke="#2a2a2a" stroke-width="1.3"/>
<line x1="391.50" y1="300.30" x2="391.50" y2="303.50" stroke="#2a2a2a" stroke-width="1.1"/>
<g transform="translate(391.50 312.30)" fill="#111" stroke="#111" stroke-width="0.1"><text font-weight="bold" xml:space="preserve"><tspan x="-10.260" y="0.000" font-size="8.2" font-style="normal">0.000</tspan></text></g>
<line x1="417.90" y1="300.30" x2="417.90" y2="303.50" stroke="#2a2a2a" stroke-width="1.1"/>
<g transform="translate(417.90 312.30)" fill="#111" stroke="#111" stroke-width="0.1"><text font-weight="bold" xml:space="preserve"><tspan x="-10.260" y="0.000" font-size="8.2" font-style="normal">0.005</tspan></text></g>
<line x1="444.30" y1="300.30" x2="444.30" y2="303.50" stroke="#2a2a2a" stroke-width="1.1"/>
<g transform="translate(444.30 312.30)" fill="#111" stroke="#111" stroke-width="0.1"><text font-weight="bold" xml:space="preserve"><tspan x="-10.260" y="0.000" font-size="8.2" font-style="normal">0.0</tspan><tspan x="5.700" y="0.000" font-size="8.2" font-style="normal">0</tspan></text><g stroke-linejoin="round"><polygon points="3.053,0.000 3.053,-4.685 1.700,-3.840 1.700,-4.725 3.113,-5.642 4.178,-5.642 4.178,0.000"/></g></g>
<line x1="470.70" y1="300.30" x2="470.70" y2="303.50" stroke="#2a2a2a" stroke-width="1.1"/>
<g transform="translate(470.70 312.30)" fill="#111" stroke="#111" stroke-width="0.1"><text font-weight="bold" xml:space="preserve"><tspan x="-10.260" y="0.000" font-size="8.2" font-style="normal">0.0</tspan><tspan x="5.700" y="0.000" font-size="8.2" font-style="normal">5</tspan></text><g stroke-linejoin="round"><polygon points="3.053,0.000 3.053,-4.685 1.700,-3.840 1.700,-4.725 3.113,-5.642 4.178,-5.642 4.178,0.000"/></g></g>
<line x1="497.10" y1="300.30" x2="497.10" y2="303.50" stroke="#2a2a2a" stroke-width="1.1"/>
<g transform="translate(497.10 312.30)" fill="#111" stroke="#111" stroke-width="0.1"><text font-weight="bold" xml:space="preserve"><tspan x="-10.260" y="0.000" font-size="8.2" font-style="normal">0.020</tspan></text></g>
<g transform="translate(444.30 323.50)" fill="#111" stroke="#111" stroke-width="0.3"><text font-weight="bold" xml:space="preserve"><tspan x="-36.004" y="0.000" font-size="9.0" font-style="italic">SMOC2 / GAPDH</tspan></text></g>
<g transform="translate(362.10 245.70) rotate(-90)" fill="#111" stroke="#111" stroke-width="0.3"><text font-weight="bold" xml:space="preserve"><tspan x="-34.368" y="0.000" font-size="8.9" font-style="italic">ASCL2 / GAPDH</tspan></text></g>
<g transform="translate(398.30 200.00) scale(0.8960 1)" fill="#111" stroke="#111" stroke-width="0.3"><text font-weight="bold" xml:space="preserve"><tspan x="0.000" y="0.000" font-size="8.6" font-style="italic">r</tspan><tspan x="3.947" y="-3.900" font-size="5.9" font-style="normal">2</tspan><tspan x="7.228" y="0.000" font-size="8.6" font-style="normal"> &lt; 0.0</tspan><tspan x="33.767" y="0.000" font-size="8.6" font-style="normal">,  </tspan><tspan x="40.935" y="0.000" font-size="8.6" font-style="italic">P</tspan><tspan x="46.671" y="0.000" font-size="8.6" font-style="normal"> = 0.99</tspan></text><g stroke-linejoin="round"><polygon points="30.991,0.000 30.991,-4.913 29.572,-4.027 29.572,-4.955 31.054,-5.917 32.171,-5.917 32.171,0.000"/></g></g>
<line x1="393.00" y1="290.10" x2="473.60" y2="277.80" stroke="#111" stroke-width="1.1"/>
<circle cx="391.50" cy="209.90" r="1.7" fill="#000"/>
<circle cx="470.30" cy="260.30" r="1.7" fill="#000"/>
<circle cx="473.60" cy="275.60" r="1.7" fill="#000"/>
<circle cx="454.30" cy="283.70" r="1.7" fill="#000"/>
<circle cx="444.70" cy="292.40" r="1.7" fill="#000"/>
<circle cx="433.10" cy="298.30" r="1.7" fill="#000"/>
<circle cx="391.70" cy="266.30" r="1.7" fill="#000"/>
<circle cx="392.20" cy="275.20" r="1.7" fill="#000"/>
<circle cx="396.20" cy="282.80" r="1.7" fill="#000"/>
<circle cx="397.80" cy="286.40" r="1.7" fill="#000"/>
<circle cx="392.30" cy="287.60" r="1.7" fill="#000"/>
<circle cx="391.70" cy="289.50" r="1.7" fill="#000"/>
<circle cx="393.10" cy="290.90" r="1.7" fill="#000"/>
<circle cx="394.00" cy="294.90" r="1.7" fill="#000"/>
<circle cx="402.50" cy="295.10" r="1.7" fill="#000"/>
<circle cx="404.90" cy="298.00" r="1.7" fill="#000"/>
<circle cx="391.30" cy="296.70" r="1.7" fill="#000"/>
<circle cx="394.80" cy="296.70" r="1.7" fill="#000"/>
<circle cx="396.20" cy="298.00" r="1.7" fill="#000"/>
<circle cx="392.60" cy="298.90" r="1.7" fill="#000"/>
<circle cx="396.60" cy="299.40" r="1.7" fill="#000"/>
<circle cx="391.70" cy="300.30" r="1.7" fill="#000"/>
<circle cx="394.40" cy="299.80" r="1.7" fill="#000"/>
<line x1="553.40" y1="190.70" x2="553.40" y2="299.00" stroke="#2a2a2a" stroke-width="1.3"/>
<line x1="550.20" y1="298.40" x2="553.40" y2="298.40" stroke="#2a2a2a" stroke-width="1.1"/>
<g transform="translate(548.80 301.40)" fill="#111" stroke="#111" stroke-width="0.1"><text font-weight="bold" xml:space="preserve"><tspan x="-20.520" y="0.000" font-size="8.2" font-style="normal">0.000</tspan></text></g>
<line x1="550.20" y1="262.67" x2="553.40" y2="262.67" stroke="#2a2a2a" stroke-width="1.1"/>
<g transform="translate(548.80 265.67)" fill="#111" stroke="#111" stroke-width="0.1"><text font-weight="bold" xml:space="preserve"><tspan x="-20.520" y="0.000" font-size="8.2" font-style="normal">0.002</tspan></text></g>
<line x1="550.20" y1="226.93" x2="553.40" y2="226.93" stroke="#2a2a2a" stroke-width="1.1"/>
<g transform="translate(548.80 229.93)" fill="#111" stroke="#111" stroke-width="0.1"><text font-weight="bold" xml:space="preserve"><tspan x="-20.520" y="0.000" font-size="8.2" font-style="normal">0.004</tspan></text></g>
<line x1="550.20" y1="191.20" x2="553.40" y2="191.20" stroke="#2a2a2a" stroke-width="1.1"/>
<g transform="translate(548.80 194.20)" fill="#111" stroke="#111" stroke-width="0.1"><text font-weight="bold" xml:space="preserve"><tspan x="-20.520" y="0.000" font-size="8.2" font-style="normal">0.006</tspan></text></g>
<line x1="550.20" y1="298.40" x2="659.50" y2="298.40" stroke="#2a2a2a" stroke-width="1.3"/>
<line x1="553.40" y1="298.40" x2="553.40" y2="301.60" stroke="#2a2a2a" stroke-width="1.1"/>
<g transform="translate(553.40 310.40)" fill="#111" stroke="#111" stroke-width="0.1"><text font-weight="bold" xml:space="preserve"><tspan x="-10.260" y="0.000" font-size="8.2" font-style="normal">0.000</tspan></text></g>
<line x1="579.80" y1="298.40" x2="579.80" y2="301.60" stroke="#2a2a2a" stroke-width="1.1"/>
<g transform="translate(579.80 310.40)" fill="#111" stroke="#111" stroke-width="0.1"><text font-weight="bold" xml:space="preserve"><tspan x="-10.260" y="0.000" font-size="8.2" font-style="normal">0.005</tspan></text></g>
<line x1="606.20" y1="298.40" x2="606.20" y2="301.60" stroke="#2a2a2a" stroke-width="1.1"/>
<g transform="translate(606.20 310.40)" fill="#111" stroke="#111" stroke-width="0.1"><text font-weight="bold" xml:space="preserve"><tspan x="-10.260" y="0.000" font-size="8.2" font-style="normal">0.0</tspan><tspan x="5.700" y="0.000" font-size="8.2" font-style="normal">0</tspan></text><g stroke-linejoin="round"><polygon points="3.053,0.000 3.053,-4.685 1.700,-3.840 1.700,-4.725 3.113,-5.642 4.178,-5.642 4.178,0.000"/></g></g>
<line x1="632.60" y1="298.40" x2="632.60" y2="301.60" stroke="#2a2a2a" stroke-width="1.1"/>
<g transform="translate(632.60 310.40)" fill="#111" stroke="#111" stroke-width="0.1"><text font-weight="bold" xml:space="preserve"><tspan x="-10.260" y="0.000" font-size="8.2" font-style="normal">0.0</tspan><tspan x="5.700" y="0.000" font-size="8.2" font-style="normal">5</tspan></text><g stroke-linejoin="round"><polygon points="3.053,0.000 3.053,-4.685 1.700,-3.840 1.700,-4.725 3.113,-5.642 4.178,-5.642 4.178,0.000"/></g></g>
<line x1="659.00" y1="298.40" x2="659.00" y2="301.60" stroke="#2a2a2a" stroke-width="1.1"/>
<g transform="translate(659.00 310.40)" fill="#111" stroke="#111" stroke-width="0.1"><text font-weight="bold" xml:space="preserve"><tspan x="-10.260" y="0.000" font-size="8.2" font-style="normal">0.020</tspan></text></g>
<g transform="translate(606.20 321.60)" fill="#111" stroke="#111" stroke-width="0.3"><text font-weight="bold" xml:space="preserve"><tspan x="-36.004" y="0.000" font-size="9.0" font-style="italic">SMOC2 / GAPDH</tspan></text></g>
<g transform="translate(524.10 243.20) rotate(-90)" fill="#111" stroke="#111" stroke-width="0.3"><text font-weight="bold" xml:space="preserve"><tspan x="-34.618" y="0.000" font-size="8.9" font-style="italic">EPHB2 / GAPDH</tspan></text></g>
<g transform="translate(560.10 197.90) scale(0.8960 1)" fill="#111" stroke="#111" stroke-width="0.3"><text font-weight="bold" xml:space="preserve"><tspan x="0.000" y="0.000" font-size="8.6" font-style="italic">r</tspan><tspan x="3.947" y="-3.900" font-size="5.9" font-style="normal">2</tspan><tspan x="7.228" y="0.000" font-size="8.6" font-style="normal"> = 0.0</tspan><tspan x="33.767" y="0.000" font-size="8.6" font-style="normal">,  </tspan><tspan x="40.935" y="0.000" font-size="8.6" font-style="italic">P</tspan><tspan x="46.671" y="0.000" font-size="8.6" font-style="normal"> = 0.60</tspan></text><g stroke-linejoin="round"><polygon points="30.991,0.000 30.991,-4.913 29.572,-4.027 29.572,-4.955 31.054,-5.917 32.171,-5.917 32.171,0.000"/></g></g>
<line x1="555.70" y1="268.40" x2="635.60" y2="276.50" stroke="#111" stroke-width="1.1"/>
<circle cx="556.80" cy="198.80" r="1.7" fill="#000"/>
<circle cx="554.60" cy="201.40" r="1.7" fill="#000"/>
<circle cx="554.60" cy="210.10" r="1.7" fill="#000"/>
<circle cx="554.10" cy="248.70" r="1.7" fill="#000"/>
<circle cx="555.00" cy="254.20" r="1.7" fill="#000"/>
<circle cx="635.60" cy="254.60" r="1.7" fill="#000"/>
<circle cx="606.70" cy="267.30" r="1.7" fill="#000"/>
<circle cx="595.10" cy="271.50" r="1.7" fill="#000"/>
<circle cx="616.30" cy="290.30" r="1.7" fill="#000"/>
<circle cx="632.70" cy="290.30" r="1.7" fill="#000"/>
<circle cx="559.60" cy="260.80" r="1.7" fill="#000"/>
<circle cx="564.50" cy="265.30" r="1.7" fill="#000"/>
<circle cx="556.30" cy="268.90" r="1.7" fill="#000"/>
<circle cx="554.10" cy="273.80" r="1.7" fill="#000"/>
<circle cx="554.50" cy="276.00" r="1.7" fill="#000"/>
<circle cx="555.70" cy="276.50" r="1.7" fill="#000"/>
<circle cx="554.10" cy="277.80" r="1.7" fill="#000"/>
<circle cx="557.50" cy="279.40" r="1.7" fill="#000"/>
<circle cx="566.80" cy="279.60" r="1.7" fill="#000"/>
<circle cx="555.00" cy="280.50" r="1.7" fill="#000"/>
<circle cx="555.80" cy="281.90" r="1.7" fill="#000"/>
<circle cx="553.60" cy="283.20" r="1.7" fill="#000"/>
<circle cx="558.50" cy="285.90" r="1.7" fill="#000"/>
<circle cx="553.20" cy="289.00" r="1.7" fill="#000"/>
<circle cx="553.60" cy="291.30" r="1.7" fill="#000"/>
<circle cx="558.40" cy="292.00" r="1.7" fill="#000"/>
<circle cx="558.40" cy="296.00" r="1.7" fill="#000"/>
<circle cx="553.20" cy="292.60" r="1.7" fill="#000"/>
<line x1="52.80" y1="370.30" x2="52.80" y2="478.90" stroke="#2a2a2a" stroke-width="1.3"/>
<line x1="49.60" y1="478.30" x2="52.80" y2="478.30" stroke="#2a2a2a" stroke-width="1.1"/>
<g transform="translate(48.20 481.30)" fill="#111" stroke="#111" stroke-width="0.1"><text font-weight="bold" xml:space="preserve"><tspan x="-20.520" y="0.000" font-size="8.2" font-style="normal">0.000</tspan></text></g>
<line x1="49.60" y1="456.80" x2="52.80" y2="456.80" stroke="#2a2a2a" stroke-width="1.1"/>
<g transform="translate(48.20 459.80)" fill="#111" stroke="#111" stroke-width="0.1"><text font-weight="bold" xml:space="preserve"><tspan x="-20.520" y="0.000" font-size="8.2" font-style="normal">0.005</tspan></text></g>
<line x1="49.60" y1="435.30" x2="52.80" y2="435.30" stroke="#2a2a2a" stroke-width="1.1"/>
<g transform="translate(48.20 438.30)" fill="#111" stroke="#111" stroke-width="0.1"><text font-weight="bold" xml:space="preserve"><tspan x="-20.520" y="0.000" font-size="8.2" font-style="normal">0.0</tspan><tspan x="-4.560" y="0.000" font-size="8.2" font-style="normal">0</tspan></text><g stroke-linejoin="round"><polygon points="-7.207,0.000 -7.207,-4.685 -8.560,-3.840 -8.560,-4.725 -7.147,-5.642 -6.082,-5.642 -6.082,0.000"/></g></g>
<line x1="49.60" y1="413.80" x2="52.80" y2="413.80" stroke="#2a2a2a" stroke-width="1.1"/>
<g transform="translate(48.20 416.80)" fill="#111" stroke="#111" stroke-width="0.1"><text font-weight="bold" xml:space="preserve"><tspan x="-20.520" y="0.000" font-size="8.2" font-style="normal">0.0</tspan><tspan x="-4.560" y="0.000" font-size="8.2" font-style="normal">5</tspan></text><g stroke-linejoin="round"><polygon points="-7.207,0.000 -7.207,-4.685 -8.560,-3.840 -8.560,-4.725 -7.147,-5.642 -6.082,-5.642 -6.082,0.000"/></g></g>
<line x1="49.60" y1="392.30" x2="52.80" y2="392.30" stroke="#2a2a2a" stroke-width="1.1"/>
<g transform="translate(48.20 395.30)" fill="#111" stroke="#111" stroke-width="0.1"><text font-weight="bold" xml:space="preserve"><tspan x="-20.520" y="0.000" font-size="8.2" font-style="normal">0.020</tspan></text></g>
<line x1="49.60" y1="370.80" x2="52.80" y2="370.80" stroke="#2a2a2a" stroke-width="1.1"/>
<g transform="translate(48.20 373.80)" fill="#111" stroke="#111" stroke-width="0.1"><text font-weight="bold" xml:space="preserve"><tspan x="-20.520" y="0.000" font-size="8.2" font-style="normal">0.025</tspan></text></g>
<line x1="49.60" y1="478.30" x2="158.90" y2="478.30" stroke="#2a2a2a" stroke-width="1.3"/>
<line x1="52.80" y1="478.30" x2="52.80" y2="481.50" stroke="#2a2a2a" stroke-width="1.1"/>
<g transform="translate(52.80 490.30)" fill="#111" stroke="#111" stroke-width="0.1"><text font-weight="bold" xml:space="preserve"><tspan x="-10.260" y="0.000" font-size="8.2" font-style="normal">0.000</tspan></text></g>
<line x1="79.20" y1="478.30" x2="79.20" y2="481.50" stroke="#2a2a2a" stroke-width="1.1"/>
<g transform="translate(79.20 490.30)" fill="#111" stroke="#111" stroke-width="0.1"><text font-weight="bold" xml:space="preserve"><tspan x="-10.260" y="0.000" font-size="8.2" font-style="normal">0.005</tspan></text></g>
<line x1="105.60" y1="478.30" x2="105.60" y2="481.50" stroke="#2a2a2a" stroke-width="1.1"/>
<g transform="translate(105.60 490.30)" fill="#111" stroke="#111" stroke-width="0.1"><text font-weight="bold" xml:space="preserve"><tspan x="-10.260" y="0.000" font-size="8.2" font-style="normal">0.0</tspan><tspan x="5.700" y="0.000" font-size="8.2" font-style="normal">0</tspan></text><g stroke-linejoin="round"><polygon points="3.053,0.000 3.053,-4.685 1.700,-3.840 1.700,-4.725 3.113,-5.642 4.178,-5.642 4.178,0.000"/></g></g>
<line x1="132.00" y1="478.30" x2="132.00" y2="481.50" stroke="#2a2a2a" stroke-width="1.1"/>
<g transform="translate(132.00 490.30)" fill="#111" stroke="#111" stroke-width="0.1"><text font-weight="bold" xml:space="preserve"><tspan x="-10.260" y="0.000" font-size="8.2" font-style="normal">0.0</tspan><tspan x="5.700" y="0.000" font-size="8.2" font-style="normal">5</tspan></text><g stroke-linejoin="round"><polygon points="3.053,0.000 3.053,-4.685 1.700,-3.840 1.700,-4.725 3.113,-5.642 4.178,-5.642 4.178,0.000"/></g></g>
<line x1="158.40" y1="478.30" x2="158.40" y2="481.50" stroke="#2a2a2a" stroke-width="1.1"/>
<g transform="translate(158.40 490.30)" fill="#111" stroke="#111" stroke-width="0.1"><text font-weight="bold" xml:space="preserve"><tspan x="-10.260" y="0.000" font-size="8.2" font-style="normal">0.020</tspan></text></g>
<g transform="translate(105.60 501.50)" fill="#111" stroke="#111" stroke-width="0.3"><text font-weight="bold" xml:space="preserve"><tspan x="-36.004" y="0.000" font-size="9.0" font-style="italic">SMOC2 / GAPDH</tspan></text></g>
<g transform="translate(24.10 423.30) rotate(-90)" fill="#111" stroke="#111" stroke-width="0.3"><text font-weight="bold" xml:space="preserve"><tspan x="-31.157" y="0.000" font-size="8.9" font-style="italic">CD44 / GAPDH</tspan></text></g>
<g transform="translate(59.30 377.20) scale(0.8960 1)" fill="#111" stroke="#111" stroke-width="0.3"><text font-weight="bold" xml:space="preserve"><tspan x="0.000" y="0.000" font-size="8.6" font-style="italic">r</tspan><tspan x="3.947" y="-3.900" font-size="5.9" font-style="normal">2</tspan><tspan x="7.228" y="0.000" font-size="8.6" font-style="normal"> = 0.0</tspan><tspan x="33.767" y="0.000" font-size="8.6" font-style="normal">,  </tspan><tspan x="40.935" y="0.000" font-size="8.6" font-style="italic">P</tspan><tspan x="46.671" y="0.000" font-size="8.6" font-style="normal"> = 0.72</tspan></text><g stroke-linejoin="round"><polygon points="30.991,0.000 30.991,-4.913 29.572,-4.027 29.572,-4.955 31.054,-5.917 32.171,-5.917 32.171,0.000"/></g></g>
<line x1="54.60" y1="435.30" x2="134.90" y2="440.30" stroke="#111" stroke-width="1.1"/>
<circle cx="63.80" cy="388.60" r="1.7" fill="#000"/>
<circle cx="134.50" cy="414.20" r="1.7" fill="#000"/>
<circle cx="115.40" cy="432.00" r="1.7" fill="#000"/>
<circle cx="94.40" cy="449.90" r="1.7" fill="#000"/>
<circle cx="106.00" cy="453.20" r="1.7" fill="#000"/>
<circle cx="131.60" cy="459.30" r="1.7" fill="#000"/>
<circle cx="55.40" cy="402.20" r="1.7" fill="#000"/>
<circle cx="54.60" cy="403.80" r="1.7" fill="#000"/>
<circle cx="53.80" cy="417.30" r="1.7" fill="#000"/>
<circle cx="53.80" cy="419.70" r="1.7" fill="#000"/>
<circle cx="54.20" cy="422.90" r="1.7" fill="#000"/>
<circle cx="54.20" cy="425.30" r="1.7" fill="#000"/>
<circle cx="59.00" cy="427.70" r="1.7" fill="#000"/>
<circle cx="53.00" cy="428.80" r="1.7" fill="#000"/>
<circle cx="53.30" cy="434.90" r="1.7" fill="#000"/>
<circle cx="55.80" cy="436.50" r="1.7" fill="#000"/>
<circle cx="65.70" cy="436.50" r="1.7" fill="#000"/>
<circle cx="53.80" cy="440.50" r="1.7" fill="#000"/>
<circle cx="53.30" cy="444.40" r="1.7" fill="#000"/>
<circle cx="53.80" cy="446.80" r="1.7" fill="#000"/>
<circle cx="52.70" cy="451.60" r="1.7" fill="#000"/>
<circle cx="57.00" cy="452.40" r="1.7" fill="#000"/>
<circle cx="57.80" cy="461.20" r="1.7" fill="#000"/>
<circle cx="55.40" cy="464.40" r="1.7" fill="#000"/>
<circle cx="57.40" cy="471.20" r="1.7" fill="#000"/>
<line x1="221.30" y1="370.30" x2="221.30" y2="478.90" stroke="#2a2a2a" stroke-width="1.3"/>
<line x1="218.10" y1="478.30" x2="221.30" y2="478.30" stroke="#2a2a2a" stroke-width="1.1"/>
<g transform="translate(216.70 481.30)" fill="#111" stroke="#111" stroke-width="0.1"><text font-weight="bold" xml:space="preserve"><tspan x="-20.520" y="0.000" font-size="8.2" font-style="normal">0.000</tspan></text></g>
<line x1="218.10" y1="456.80" x2="221.30" y2="456.80" stroke="#2a2a2a" stroke-width="1.1"/>
<g transform="translate(216.70 459.80)" fill="#111" stroke="#111" stroke-width="0.1"><text font-weight="bold" xml:space="preserve"><tspan x="-20.520" y="0.000" font-size="8.2" font-style="normal">0.002</tspan></text></g>
<line x1="218.10" y1="435.30" x2="221.30" y2="435.30" stroke="#2a2a2a" stroke-width="1.1"/>
<g transform="translate(216.70 438.30)" fill="#111" stroke="#111" stroke-width="0.1"><text font-weight="bold" xml:space="preserve"><tspan x="-20.520" y="0.000" font-size="8.2" font-style="normal">0.004</tspan></text></g>
<line x1="218.10" y1="413.80" x2="221.30" y2="413.80" stroke="#2a2a2a" stroke-width="1.1"/>
<g transform="translate(216.70 416.80)" fill="#111" stroke="#111" stroke-width="0.1"><text font-weight="bold" xml:space="preserve"><tspan x="-20.520" y="0.000" font-size="8.2" font-style="normal">0.006</tspan></text></g>
<line x1="218.10" y1="392.30" x2="221.30" y2="392.30" stroke="#2a2a2a" stroke-width="1.1"/>
<g transform="translate(216.70 395.30)" fill="#111" stroke="#111" stroke-width="0.1"><text font-weight="bold" xml:space="preserve"><tspan x="-20.520" y="0.000" font-size="8.2" font-style="normal">0.008</tspan></text></g>
<line x1="218.10" y1="370.80" x2="221.30" y2="370.80" stroke="#2a2a2a" stroke-width="1.1"/>
<g transform="translate(216.70 373.80)" fill="#111" stroke="#111" stroke-width="0.1"><text font-weight="bold" xml:space="preserve"><tspan x="-20.520" y="0.000" font-size="8.2" font-style="normal">0.0</tspan><tspan x="-4.560" y="0.000" font-size="8.2" font-style="normal">0</tspan></text><g stroke-linejoin="round"><polygon points="-7.207,0.000 -7.207,-4.685 -8.560,-3.840 -8.560,-4.725 -7.147,-5.642 -6.082,-5.642 -6.082,0.000"/></g></g>
<line x1="218.10" y1="478.30" x2="327.40" y2="478.30" stroke="#2a2a2a" stroke-width="1.3"/>
<line x1="221.30" y1="478.30" x2="221.30" y2="481.50" stroke="#2a2a2a" stroke-width="1.1"/>
<g transform="translate(221.30 490.30)" fill="#111" stroke="#111" stroke-width="0.1"><text font-weight="bold" xml:space="preserve"><tspan x="-10.260" y="0.000" font-size="8.2" font-style="normal">0.000</tspan></text></g>
<line x1="247.70" y1="478.30" x2="247.70" y2="481.50" stroke="#2a2a2a" stroke-width="1.1"/>
<g transform="translate(247.70 490.30)" fill="#111" stroke="#111" stroke-width="0.1"><text font-weight="bold" xml:space="preserve"><tspan x="-10.260" y="0.000" font-size="8.2" font-style="normal">0.005</tspan></text></g>
<line x1="274.10" y1="478.30" x2="274.10" y2="481.50" stroke="#2a2a2a" stroke-width="1.1"/>
<g transform="translate(274.10 490.30)" fill="#111" stroke="#111" stroke-width="0.1"><text font-weight="bold" xml:space="preserve"><tspan x="-10.260" y="0.000" font-size="8.2" font-style="normal">0.0</tspan><tspan x="5.700" y="0.000" font-size="8.2" font-style="normal">0</tspan></text><g stroke-linejoin="round"><polygon points="3.053,0.000 3.053,-4.685 1.700,-3.840 1.700,-4.725 3.113,-5.642 4.178,-5.642 4.178,0.000"/></g></g>
<line x1="300.50" y1="478.30" x2="300.50" y2="481.50" stroke="#2a2a2a" stroke-width="1.1"/>
<g transform="translate(300.50 490.30)" fill="#111" stroke="#111" stroke-width="0.1"><text font-weight="bold" xml:space="preserve"><tspan x="-10.260" y="0.000" font-size="8.2" font-style="normal">0.0</tspan><tspan x="5.700" y="0.000" font-size="8.2" font-style="normal">5</tspan></text><g stroke-linejoin="round"><polygon points="3.053,0.000 3.053,-4.685 1.700,-3.840 1.700,-4.725 3.113,-5.642 4.178,-5.642 4.178,0.000"/></g></g>
<line x1="326.90" y1="478.30" x2="326.90" y2="481.50" stroke="#2a2a2a" stroke-width="1.1"/>
<g transform="translate(326.90 490.30)" fill="#111" stroke="#111" stroke-width="0.1"><text font-weight="bold" xml:space="preserve"><tspan x="-10.260" y="0.000" font-size="8.2" font-style="normal">0.020</tspan></text></g>
<g transform="translate(274.10 501.50)" fill="#111" stroke="#111" stroke-width="0.3"><text font-weight="bold" xml:space="preserve"><tspan x="-36.004" y="0.000" font-size="9.0" font-style="italic">SMOC2 / GAPDH</tspan></text></g>
<g transform="translate(192.10 423.70) rotate(-90)" fill="#111" stroke="#111" stroke-width="0.3"><text font-weight="bold" xml:space="preserve"><tspan x="-33.631" y="0.000" font-size="8.9" font-style="italic">CD</tspan><tspan x="-15.827" y="0.000" font-size="8.9" font-style="italic">66 / GAPDH</tspan></text><g stroke-linejoin="round"><polygon points="-19.125,0.000 -18.152,-5.006 -19.808,-4.076 -19.603,-5.128 -17.883,-6.123 -16.709,-6.123 -17.904,0.000"/></g></g>
<g transform="translate(227.60 377.20) scale(0.8960 1)" fill="#111" stroke="#111" stroke-width="0.3"><text font-weight="bold" xml:space="preserve"><tspan x="0.000" y="0.000" font-size="8.6" font-style="italic">r</tspan><tspan x="3.947" y="-3.900" font-size="5.9" font-style="normal">2</tspan><tspan x="7.228" y="0.000" font-size="8.6" font-style="normal"> = 0.02,  </tspan><tspan x="40.935" y="0.000" font-size="8.6" font-style="italic">P</tspan><tspan x="46.671" y="0.000" font-size="8.6" font-style="normal"> = 0.47</tspan></text></g>
<line x1="221.50" y1="452.10" x2="303.10" y2="455.00" stroke="#111" stroke-width="1.1"/>
<circle cx="303.10" cy="422.60" r="1.7" fill="#000"/>
<circle cx="283.90" cy="442.70" r="1.7" fill="#000"/>
<circle cx="262.40" cy="467.90" r="1.7" fill="#000"/>
<circle cx="300.30" cy="475.10" r="1.7" fill="#000"/>
<circle cx="274.00" cy="477.90" r="1.7" fill="#000"/>
<circle cx="222.50" cy="396.70" r="1.7" fill="#000"/>
<circle cx="222.10" cy="416.70" r="1.7" fill="#000"/>
<circle cx="224.50" cy="423.00" r="1.7" fill="#000"/>
<circle cx="227.20" cy="435.70" r="1.7" fill="#000"/>
<circle cx="224.50" cy="436.50" r="1.7" fill="#000"/>
<circle cx="222.80" cy="439.40" r="1.7" fill="#000"/>
<circle cx="221.60" cy="440.80" r="1.7" fill="#000"/>
<circle cx="226.20" cy="445.80" r="1.7" fill="#000"/>
<circle cx="232.30" cy="445.00" r="1.7" fill="#000"/>
<circle cx="222.10" cy="449.20" r="1.7" fill="#000"/>
<circle cx="222.10" cy="450.90" r="1.7" fill="#000"/>
<circle cx="225.50" cy="459.40" r="1.7" fill="#000"/>
<circle cx="234.70" cy="458.10" r="1.7" fill="#000"/>
<circle cx="222.10" cy="460.30" r="1.7" fill="#000"/>
<circle cx="222.10" cy="469.60" r="1.7" fill="#000"/>
<circle cx="224.50" cy="469.60" r="1.7" fill="#000"/>
<circle cx="221.60" cy="472.10" r="1.7" fill="#000"/>
<circle cx="226.20" cy="475.00" r="1.7" fill="#000"/>
<circle cx="221.60" cy="476.00" r="1.7" fill="#000"/>
<line x1="389.10" y1="370.30" x2="389.10" y2="478.90" stroke="#2a2a2a" stroke-width="1.3"/>
<line x1="385.90" y1="478.30" x2="389.10" y2="478.30" stroke="#2a2a2a" stroke-width="1.1"/>
<g transform="translate(384.50 481.30)" fill="#111" stroke="#111" stroke-width="0.1"><text font-weight="bold" xml:space="preserve"><tspan x="-15.960" y="0.000" font-size="8.2" font-style="normal">0.00</tspan></text></g>
<line x1="385.90" y1="442.47" x2="389.10" y2="442.47" stroke="#2a2a2a" stroke-width="1.1"/>
<g transform="translate(384.50 445.47)" fill="#111" stroke="#111" stroke-width="0.1"><text font-weight="bold" xml:space="preserve"><tspan x="-15.960" y="0.000" font-size="8.2" font-style="normal">0.05</tspan></text></g>
<line x1="385.90" y1="406.63" x2="389.10" y2="406.63" stroke="#2a2a2a" stroke-width="1.1"/>
<g transform="translate(384.50 409.63)" fill="#111" stroke="#111" stroke-width="0.1"><text font-weight="bold" xml:space="preserve"><tspan x="-15.960" y="0.000" font-size="8.2" font-style="normal">0.</tspan><tspan x="-4.560" y="0.000" font-size="8.2" font-style="normal">0</tspan></text><g stroke-linejoin="round"><polygon points="-7.207,0.000 -7.207,-4.685 -8.560,-3.840 -8.560,-4.725 -7.147,-5.642 -6.082,-5.642 -6.082,0.000"/></g></g>
<line x1="385.90" y1="370.80" x2="389.10" y2="370.80" stroke="#2a2a2a" stroke-width="1.1"/>
<g transform="translate(384.50 373.80)" fill="#111" stroke="#111" stroke-width="0.1"><text font-weight="bold" xml:space="preserve"><tspan x="-15.960" y="0.000" font-size="8.2" font-style="normal">0.</tspan><tspan x="-4.560" y="0.000" font-size="8.2" font-style="normal">5</tspan></text><g stroke-linejoin="round"><polygon points="-7.207,0.000 -7.207,-4.685 -8.560,-3.840 -8.560,-4.725 -7.147,-5.642 -6.082,-5.642 -6.082,0.000"/></g></g>
<line x1="385.90" y1="478.30" x2="495.20" y2="478.30" stroke="#2a2a2a" stroke-width="1.3"/>
<line x1="389.10" y1="478.30" x2="389.10" y2="481.50" stroke="#2a2a2a" stroke-width="1.1"/>
<g transform="translate(389.10 490.30)" fill="#111" stroke="#111" stroke-width="0.1"><text font-weight="bold" xml:space="preserve"><tspan x="-10.260" y="0.000" font-size="8.2" font-style="normal">0.000</tspan></text></g>
<line x1="415.50" y1="478.30" x2="415.50" y2="481.50" stroke="#2a2a2a" stroke-width="1.1"/>
<g transform="translate(415.50 490.30)" fill="#111" stroke="#111" stroke-width="0.1"><text font-weight="bold" xml:space="preserve"><tspan x="-10.260" y="0.000" font-size="8.2" font-style="normal">0.005</tspan></text></g>
<line x1="441.90" y1="478.30" x2="441.90" y2="481.50" stroke="#2a2a2a" stroke-width="1.1"/>
<g transform="translate(441.90 490.30)" fill="#111" stroke="#111" stroke-width="0.1"><text font-weight="bold" xml:space="preserve"><tspan x="-10.260" y="0.000" font-size="8.2" font-style="normal">0.0</tspan><tspan x="5.700" y="0.000" font-size="8.2" font-style="normal">0</tspan></text><g stroke-linejoin="round"><polygon points="3.053,0.000 3.053,-4.685 1.700,-3.840 1.700,-4.725 3.113,-5.642 4.178,-5.642 4.178,0.000"/></g></g>
<line x1="468.30" y1="478.30" x2="468.30" y2="481.50" stroke="#2a2a2a" stroke-width="1.1"/>
<g transform="translate(468.30 490.30)" fill="#111" stroke="#111" stroke-width="0.1"><text font-weight="bold" xml:space="preserve"><tspan x="-10.260" y="0.000" font-size="8.2" font-style="normal">0.0</tspan><tspan x="5.700" y="0.000" font-size="8.2" font-style="normal">5</tspan></text><g stroke-linejoin="round"><polygon points="3.053,0.000 3.053,-4.685 1.700,-3.840 1.700,-4.725 3.113,-5.642 4.178,-5.642 4.178,0.000"/></g></g>
<line x1="494.70" y1="478.30" x2="494.70" y2="481.50" stroke="#2a2a2a" stroke-width="1.1"/>
<g transform="translate(494.70 490.30)" fill="#111" stroke="#111" stroke-width="0.1"><text font-weight="bold" xml:space="preserve"><tspan x="-10.260" y="0.000" font-size="8.2" font-style="normal">0.020</tspan></text></g>
<g transform="translate(441.90 501.50)" fill="#111" stroke="#111" stroke-width="0.3"><text font-weight="bold" xml:space="preserve"><tspan x="-36.004" y="0.000" font-size="9.0" font-style="italic">SMOC2 / GAPDH</tspan></text></g>
<g transform="translate(364.10 423.70) rotate(-90)" fill="#111" stroke="#111" stroke-width="0.3"><text font-weight="bold" xml:space="preserve"><tspan x="-33.631" y="0.000" font-size="8.9" font-style="italic">CD</tspan><tspan x="-15.827" y="0.000" font-size="8.9" font-style="italic">33 / GAPDH</tspan></text><g stroke-linejoin="round"><polygon points="-19.125,0.000 -18.152,-5.006 -19.808,-4.076 -19.603,-5.128 -17.883,-6.123 -16.709,-6.123 -17.904,0.000"/></g></g>
<g transform="translate(395.60 377.20) scale(0.8960 1)" fill="#111" stroke="#111" stroke-width="0.3"><text font-weight="bold" xml:space="preserve"><tspan x="0.000" y="0.000" font-size="8.6" font-style="italic">r</tspan><tspan x="3.947" y="-3.900" font-size="5.9" font-style="normal">2</tspan><tspan x="7.228" y="0.000" font-size="8.6" font-style="normal"> = 0.03,  </tspan><tspan x="40.935" y="0.000" font-size="8.6" font-style="italic">P</tspan><tspan x="46.671" y="0.000" font-size="8.6" font-style="normal"> = 0.36</tspan></text></g>
<line x1="390.60" y1="459.80" x2="470.50" y2="473.60" stroke="#111" stroke-width="1.1"/>
<circle cx="390.10" cy="383.10" r="1.7" fill="#000"/>
<circle cx="430.40" cy="466.80" r="1.7" fill="#000"/>
<circle cx="471.10" cy="460.90" r="1.7" fill="#000"/>
<circle cx="468.30" cy="472.90" r="1.7" fill="#000"/>
<circle cx="442.00" cy="476.90" r="1.7" fill="#000"/>
<circle cx="451.90" cy="478.40" r="1.7" fill="#000"/>
<circle cx="389.80" cy="437.80" r="1.7" fill="#000"/>
<circle cx="390.10" cy="442.90" r="1.7" fill="#000"/>
<circle cx="389.40" cy="445.70" r="1.7" fill="#000"/>
<circle cx="392.10" cy="448.60" r="1.7" fill="#000"/>
<circle cx="393.90" cy="454.30" r="1.7" fill="#000"/>
<circle cx="389.80" cy="457.70" r="1.7" fill="#000"/>
<circle cx="395.20" cy="459.20" r="1.7" fill="#000"/>
<circle cx="402.50" cy="462.10" r="1.7" fill="#000"/>
<circle cx="390.10" cy="461.00" r="1.7" fill="#000"/>
<circle cx="393.40" cy="463.10" r="1.7" fill="#000"/>
<circle cx="392.30" cy="463.90" r="1.7" fill="#000"/>
<circle cx="400.10" cy="465.70" r="1.7" fill="#000"/>
<circle cx="390.80" cy="467.70" r="1.7" fill="#000"/>
<circle cx="390.30" cy="469.30" r="1.7" fill="#000"/>
<circle cx="389.80" cy="471.20" r="1.7" fill="#000"/>
<circle cx="392.90" cy="472.40" r="1.7" fill="#000"/>
<circle cx="389.40" cy="475.00" r="1.7" fill="#000"/>
<circle cx="394.20" cy="476.50" r="1.7" fill="#000"/>
<circle cx="389.80" cy="477.60" r="1.7" fill="#000"/>
<circle cx="390.40" cy="464.00" r="1.7" fill="#000"/>
<circle cx="389.30" cy="469.80" r="1.7" fill="#000"/>
<circle cx="391.20" cy="475.40" r="1.7" fill="#000"/>
<circle cx="389.00" cy="474.30" r="1.7" fill="#000"/>
<circle cx="393.50" cy="474.00" r="1.7" fill="#000"/>
<circle cx="391.80" cy="462.00" r="1.7" fill="#000"/>
<circle cx="389.00" cy="458.70" r="1.7" fill="#000"/>
<line x1="548.90" y1="370.30" x2="548.90" y2="478.90" stroke="#2a2a2a" stroke-width="1.3"/>
<line x1="545.70" y1="478.30" x2="548.90" y2="478.30" stroke="#2a2a2a" stroke-width="1.1"/>
<g transform="translate(544.30 481.30)" fill="#111" stroke="#111" stroke-width="0.1"><text font-weight="bold" xml:space="preserve"><tspan x="-11.399" y="0.000" font-size="8.2" font-style="normal">0.0</tspan></text></g>
<line x1="545.70" y1="442.47" x2="548.90" y2="442.47" stroke="#2a2a2a" stroke-width="1.1"/>
<g transform="translate(544.30 445.47)" fill="#111" stroke="#111" stroke-width="0.1"><text font-weight="bold" xml:space="preserve"><tspan x="-11.399" y="0.000" font-size="8.2" font-style="normal">0.</tspan></text><g stroke-linejoin="round"><polygon points="-2.647,0.000 -2.647,-4.685 -4.000,-3.840 -4.000,-4.725 -2.587,-5.642 -1.521,-5.642 -1.521,0.000"/></g></g>
<line x1="545.70" y1="406.63" x2="548.90" y2="406.63" stroke="#2a2a2a" stroke-width="1.1"/>
<g transform="translate(544.30 409.63)" fill="#111" stroke="#111" stroke-width="0.1"><text font-weight="bold" xml:space="preserve"><tspan x="-11.399" y="0.000" font-size="8.2" font-style="normal">0.2</tspan></text></g>
<line x1="545.70" y1="370.80" x2="548.90" y2="370.80" stroke="#2a2a2a" stroke-width="1.1"/>
<g transform="translate(544.30 373.80)" fill="#111" stroke="#111" stroke-width="0.1"><text font-weight="bold" xml:space="preserve"><tspan x="-11.399" y="0.000" font-size="8.2" font-style="normal">0.3</tspan></text></g>
<line x1="545.70" y1="478.30" x2="655.00" y2="478.30" stroke="#2a2a2a" stroke-width="1.3"/>
<line x1="548.90" y1="478.30" x2="548.90" y2="481.50" stroke="#2a2a2a" stroke-width="1.1"/>
<g transform="translate(548.90 490.30)" fill="#111" stroke="#111" stroke-width="0.1"><text font-weight="bold" xml:space="preserve"><tspan x="-10.260" y="0.000" font-size="8.2" font-style="normal">0.000</tspan></text></g>
<line x1="575.30" y1="478.30" x2="575.30" y2="481.50" stroke="#2a2a2a" stroke-width="1.1"/>
<g transform="translate(575.30 490.30)" fill="#111" stroke="#111" stroke-width="0.1"><text font-weight="bold" xml:space="preserve"><tspan x="-10.260" y="0.000" font-size="8.2" font-style="normal">0.005</tspan></text></g>
<line x1="601.70" y1="478.30" x2="601.70" y2="481.50" stroke="#2a2a2a" stroke-width="1.1"/>
<g transform="translate(601.70 490.30)" fill="#111" stroke="#111" stroke-width="0.1"><text font-weight="bold" xml:space="preserve"><tspan x="-10.260" y="0.000" font-size="8.2" font-style="normal">0.0</tspan><tspan x="5.700" y="0.000" font-size="8.2" font-style="normal">0</tspan></text><g stroke-linejoin="round"><polygon points="3.053,0.000 3.053,-4.685 1.700,-3.840 1.700,-4.725 3.113,-5.642 4.178,-5.642 4.178,0.000"/></g></g>
<line x1="628.10" y1="478.30" x2="628.10" y2="481.50" stroke="#2a2a2a" stroke-width="1.1"/>
<g transform="translate(628.10 490.30)" fill="#111" stroke="#111" stroke-width="0.1"><text font-weight="bold" xml:space="preserve"><tspan x="-10.260" y="0.000" font-size="8.2" font-style="normal">0.0</tspan><tspan x="5.700" y="0.000" font-size="8.2" font-style="normal">5</tspan></text><g stroke-linejoin="round"><polygon points="3.053,0.000 3.053,-4.685 1.700,-3.840 1.700,-4.725 3.113,-5.642 4.178,-5.642 4.178,0.000"/></g></g>
<line x1="654.50" y1="478.30" x2="654.50" y2="481.50" stroke="#2a2a2a" stroke-width="1.1"/>
<g transform="translate(654.50 490.30)" fill="#111" stroke="#111" stroke-width="0.1"><text font-weight="bold" xml:space="preserve"><tspan x="-10.260" y="0.000" font-size="8.2" font-style="normal">0.020</tspan></text></g>
<g transform="translate(601.70 501.50)" fill="#111" stroke="#111" stroke-width="0.3"><text font-weight="bold" xml:space="preserve"><tspan x="-36.004" y="0.000" font-size="9.0" font-style="italic">SMOC2 / GAPDH</tspan></text></g>
<g transform="translate(529.10 423.50) rotate(-90)" fill="#111" stroke="#111" stroke-width="0.3"><text font-weight="bold" xml:space="preserve"><tspan x="-31.157" y="0.000" font-size="8.9" font-style="italic">CD24 / GAPDH</tspan></text></g>
<g transform="translate(555.60 377.20) scale(0.8960 1)" fill="#111" stroke="#111" stroke-width="0.3"><text font-weight="bold" xml:space="preserve"><tspan x="0.000" y="0.000" font-size="8.6" font-style="italic">r</tspan><tspan x="3.947" y="-3.900" font-size="5.9" font-style="normal">2</tspan><tspan x="7.228" y="0.000" font-size="8.6" font-style="normal"> = 0.0</tspan><tspan x="33.767" y="0.000" font-size="8.6" font-style="normal">,  </tspan><tspan x="40.935" y="0.000" font-size="8.6" font-style="italic">P</tspan><tspan x="46.671" y="0.000" font-size="8.6" font-style="normal"> = 0.57</tspan></text><g stroke-linejoin="round"><polygon points="30.991,0.000 30.991,-4.913 29.572,-4.027 29.572,-4.955 31.054,-5.917 32.171,-5.917 32.171,0.000"/></g></g>
<line x1="549.50" y1="444.00" x2="631.10" y2="432.80" stroke="#111" stroke-width="1.1"/>
<circle cx="550.10" cy="380.30" r="1.7" fill="#000"/>
<circle cx="548.80" cy="387.50" r="1.7" fill="#000"/>
<circle cx="548.80" cy="393.60" r="1.7" fill="#000"/>
<circle cx="551.70" cy="401.10" r="1.7" fill="#000"/>
<circle cx="627.90" cy="402.20" r="1.7" fill="#000"/>
<circle cx="553.40" cy="413.40" r="1.7" fill="#000"/>
<circle cx="549.50" cy="423.20" r="1.7" fill="#000"/>
<circle cx="611.40" cy="427.40" r="1.7" fill="#000"/>
<circle cx="590.40" cy="439.40" r="1.7" fill="#000"/>
<circle cx="602.00" cy="444.40" r="1.7" fill="#000"/>
<circle cx="631.10" cy="458.70" r="1.7" fill="#000"/>
<circle cx="553.40" cy="439.10" r="1.7" fill="#000"/>
<circle cx="549.80" cy="442.20" r="1.7" fill="#000"/>
<circle cx="562.20" cy="445.00" r="1.7" fill="#000"/>
<circle cx="549.80" cy="449.10" r="1.7" fill="#000"/>
<circle cx="551.50" cy="449.90" r="1.7" fill="#000"/>
<circle cx="552.90" cy="452.50" r="1.7" fill="#000"/>
<circle cx="549.40" cy="453.30" r="1.7" fill="#000"/>
<circle cx="549.20" cy="454.80" r="1.7" fill="#000"/>
<circle cx="550.30" cy="457.70" r="1.7" fill="#000"/>
<circle cx="560.40" cy="459.80" r="1.7" fill="#000"/>
<circle cx="555.20" cy="461.30" r="1.7" fill="#000"/>
<circle cx="550.50" cy="462.10" r="1.7" fill="#000"/>
<circle cx="549.80" cy="465.70" r="1.7" fill="#000"/>
<circle cx="552.30" cy="466.20" r="1.7" fill="#000"/>
<circle cx="554.20" cy="467.40" r="1.7" fill="#000"/>
<circle cx="549.00" cy="469.10" r="1.7" fill="#000"/>
<circle cx="549.40" cy="471.40" r="1.7" fill="#000"/>
</svg>
</body></html>
